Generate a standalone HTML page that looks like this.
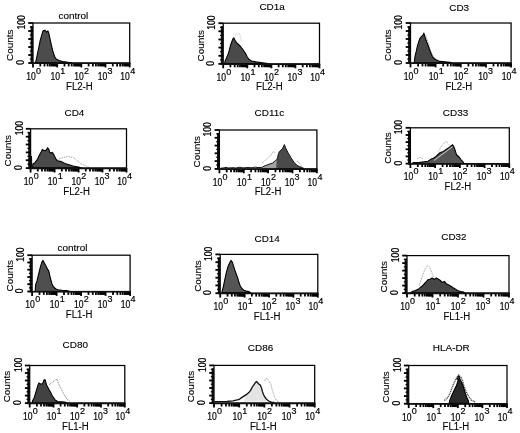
<!DOCTYPE html><html><head><meta charset="utf-8"><style>html,body{margin:0;padding:0;background:#fff;}svg{display:block;filter:blur(0.3px);}</style></head><body>
<svg width="520" height="433" viewBox="0 0 520 433" font-family='"Liberation Sans", sans-serif'>
<rect width="520" height="433" fill="#fff"/>
<g><polygon points="35.2,63.0 36.2,60.1 37.8,52.0 39.0,46.6 40.2,40.3 41.8,34.9 43.0,30.9 45.2,30.4 46.5,32.2 47.9,30.9 48.8,33.1 50.1,39.4 51.5,45.7 52.8,51.1 54.6,56.5 56.4,59.2 59.1,60.6 62.7,61.5 68.0,62.3 72.0,63.0" fill="#4c4c4c" stroke="#000" stroke-width="1.1" stroke-linejoin="round"/><rect x="33" y="23" width="96.7" height="40.0" fill="none" stroke="#000" stroke-width="1.25"/><rect x="30.6" y="26.0" width="2.4" height="37.0" fill="#111"/><line x1="28.2" y1="63.0" x2="33" y2="63.0" stroke="#000" stroke-width="1.8"/><line x1="29.8" y1="59.0" x2="33" y2="59.0" stroke="#000" stroke-width="1.2"/><line x1="28.2" y1="55.0" x2="33" y2="55.0" stroke="#000" stroke-width="1.8"/><line x1="29.8" y1="51.0" x2="33" y2="51.0" stroke="#000" stroke-width="1.2"/><line x1="28.2" y1="47.0" x2="33" y2="47.0" stroke="#000" stroke-width="1.8"/><line x1="29.8" y1="43.0" x2="33" y2="43.0" stroke="#000" stroke-width="1.2"/><line x1="28.2" y1="39.0" x2="33" y2="39.0" stroke="#000" stroke-width="1.8"/><line x1="29.8" y1="35.0" x2="33" y2="35.0" stroke="#000" stroke-width="1.2"/><line x1="28.2" y1="31.0" x2="33" y2="31.0" stroke="#000" stroke-width="1.8"/><line x1="29.8" y1="27.0" x2="33" y2="27.0" stroke="#000" stroke-width="1.2"/><line x1="28.2" y1="23.0" x2="33" y2="23.0" stroke="#000" stroke-width="1.8"/><line x1="33.0" y1="63" x2="33.0" y2="67.4" stroke="#000" stroke-width="1.8"/><line x1="40.3" y1="63" x2="40.3" y2="66.4" stroke="#000" stroke-width="1.8"/><line x1="44.5" y1="63" x2="44.5" y2="66.4" stroke="#000" stroke-width="1.8"/><line x1="47.6" y1="63" x2="47.6" y2="66.4" stroke="#000" stroke-width="1.8"/><line x1="49.9" y1="63" x2="49.9" y2="66.4" stroke="#000" stroke-width="1.8"/><line x1="51.8" y1="63" x2="51.8" y2="66.4" stroke="#000" stroke-width="1.8"/><line x1="53.4" y1="63" x2="53.4" y2="66.4" stroke="#000" stroke-width="1.8"/><line x1="54.8" y1="63" x2="54.8" y2="66.4" stroke="#000" stroke-width="1.8"/><line x1="56.1" y1="63" x2="56.1" y2="66.4" stroke="#000" stroke-width="1.8"/><line x1="57.2" y1="63" x2="57.2" y2="67.4" stroke="#000" stroke-width="1.8"/><line x1="64.5" y1="63" x2="64.5" y2="66.4" stroke="#000" stroke-width="1.8"/><line x1="68.7" y1="63" x2="68.7" y2="66.4" stroke="#000" stroke-width="1.8"/><line x1="71.7" y1="63" x2="71.7" y2="66.4" stroke="#000" stroke-width="1.8"/><line x1="74.1" y1="63" x2="74.1" y2="66.4" stroke="#000" stroke-width="1.8"/><line x1="76.0" y1="63" x2="76.0" y2="66.4" stroke="#000" stroke-width="1.8"/><line x1="77.6" y1="63" x2="77.6" y2="66.4" stroke="#000" stroke-width="1.8"/><line x1="79.0" y1="63" x2="79.0" y2="66.4" stroke="#000" stroke-width="1.8"/><line x1="80.2" y1="63" x2="80.2" y2="66.4" stroke="#000" stroke-width="1.8"/><line x1="81.3" y1="63" x2="81.3" y2="67.4" stroke="#000" stroke-width="1.8"/><line x1="88.6" y1="63" x2="88.6" y2="66.4" stroke="#000" stroke-width="1.8"/><line x1="92.9" y1="63" x2="92.9" y2="66.4" stroke="#000" stroke-width="1.8"/><line x1="95.9" y1="63" x2="95.9" y2="66.4" stroke="#000" stroke-width="1.8"/><line x1="98.2" y1="63" x2="98.2" y2="66.4" stroke="#000" stroke-width="1.8"/><line x1="100.2" y1="63" x2="100.2" y2="66.4" stroke="#000" stroke-width="1.8"/><line x1="101.8" y1="63" x2="101.8" y2="66.4" stroke="#000" stroke-width="1.8"/><line x1="103.2" y1="63" x2="103.2" y2="66.4" stroke="#000" stroke-width="1.8"/><line x1="104.4" y1="63" x2="104.4" y2="66.4" stroke="#000" stroke-width="1.8"/><line x1="105.5" y1="63" x2="105.5" y2="67.4" stroke="#000" stroke-width="1.8"/><line x1="112.8" y1="63" x2="112.8" y2="66.4" stroke="#000" stroke-width="1.8"/><line x1="117.1" y1="63" x2="117.1" y2="66.4" stroke="#000" stroke-width="1.8"/><line x1="120.1" y1="63" x2="120.1" y2="66.4" stroke="#000" stroke-width="1.8"/><line x1="122.4" y1="63" x2="122.4" y2="66.4" stroke="#000" stroke-width="1.8"/><line x1="124.3" y1="63" x2="124.3" y2="66.4" stroke="#000" stroke-width="1.8"/><line x1="126.0" y1="63" x2="126.0" y2="66.4" stroke="#000" stroke-width="1.8"/><line x1="127.4" y1="63" x2="127.4" y2="66.4" stroke="#000" stroke-width="1.8"/><line x1="128.6" y1="63" x2="128.6" y2="66.4" stroke="#000" stroke-width="1.8"/><line x1="129.7" y1="63" x2="129.7" y2="67.4" stroke="#000" stroke-width="1.8"/><rect x="51.1" y="63" width="5.5" height="3.1" fill="#000"/><rect x="75.3" y="63" width="5.5" height="3.1" fill="#000"/><rect x="99.4" y="63" width="5.5" height="3.1" fill="#000"/><rect x="123.6" y="63" width="5.5" height="3.1" fill="#000"/><line x1="30.5" y1="63.3" x2="130.3" y2="63.3" stroke="#111" stroke-width="1.6"/><text transform="translate(31.0,79.8) scale(0.86,1)" font-size="10" text-anchor="middle" stroke="#000" stroke-width="0.2">10</text><text x="38.6" y="73.7" font-size="9.0" text-anchor="middle" stroke="#000" stroke-width="0.2">0</text><text transform="translate(55.2,79.8) scale(0.86,1)" font-size="10" text-anchor="middle" stroke="#000" stroke-width="0.2">10</text><text x="62.8" y="73.7" font-size="9.0" text-anchor="middle" stroke="#000" stroke-width="0.2">1</text><text transform="translate(78.9,79.8) scale(0.86,1)" font-size="10" text-anchor="middle" stroke="#000" stroke-width="0.2">10</text><text x="86.5" y="73.7" font-size="9.0" text-anchor="middle" stroke="#000" stroke-width="0.2">2</text><text transform="translate(102.4,79.8) scale(0.86,1)" font-size="10" text-anchor="middle" stroke="#000" stroke-width="0.2">10</text><text x="110.0" y="73.7" font-size="9.0" text-anchor="middle" stroke="#000" stroke-width="0.2">3</text><text transform="translate(125.1,79.8) scale(0.86,1)" font-size="10" text-anchor="middle" stroke="#000" stroke-width="0.2">10</text><text x="132.7" y="73.7" font-size="9.0" text-anchor="middle" stroke="#000" stroke-width="0.2">4</text><text transform="translate(79.4,89.5) scale(0.96,1)" font-size="10" text-anchor="middle" stroke="#000" stroke-width="0.12">FL2-H</text><text transform="translate(73.3,18.7) scale(1.08,1)" font-size="9.2" text-anchor="middle" stroke="#000" stroke-width="0.12">control</text><text transform="translate(13.4,45.3) rotate(-90) scale(1.08,1)" font-size="9.2" text-anchor="middle" stroke="#000" stroke-width="0.12">Counts</text><text transform="translate(24.9,22.4) rotate(-90) scale(0.84,1)" font-size="10.2" text-anchor="middle" stroke="#000" stroke-width="0.2">100</text><text transform="translate(24.1,62.5) rotate(-90) scale(0.84,1)" font-size="10.2" text-anchor="middle" stroke="#000" stroke-width="0.2">0</text></g>
<g><polyline points="234.5,38.0 235.4,35.0 236.5,33.2 238.0,34.5 239.5,33.5 240.5,37.0 241.5,41.0" fill="none" stroke="#c8c8c8" stroke-width="1" stroke-dasharray="1 0.8"/><polygon points="224.5,63.9 225.1,61.0 226.7,57.5 228.3,53.6 229.5,49.6 230.6,44.9 231.8,41.8 233.0,38.6 233.8,37.9 235.0,40.2 236.5,42.6 238.5,44.5 240.5,46.5 242.4,48.9 244.0,51.2 245.6,53.6 247.1,56.7 249.1,59.5 251.5,61.0 256.0,61.9 262.3,62.7 266.5,63.3 268.0,63.9" fill="#4a4a4a" stroke="#000" stroke-width="1.1" stroke-linejoin="round"/><rect x="223.2" y="23.2" width="96.3" height="40.7" fill="none" stroke="#000" stroke-width="1.25"/><rect x="220.8" y="26.2" width="2.4" height="37.7" fill="#111"/><line x1="218.4" y1="63.9" x2="223.2" y2="63.9" stroke="#000" stroke-width="1.8"/><line x1="220.0" y1="59.8" x2="223.2" y2="59.8" stroke="#000" stroke-width="1.2"/><line x1="218.4" y1="55.8" x2="223.2" y2="55.8" stroke="#000" stroke-width="1.8"/><line x1="220.0" y1="51.7" x2="223.2" y2="51.7" stroke="#000" stroke-width="1.2"/><line x1="218.4" y1="47.6" x2="223.2" y2="47.6" stroke="#000" stroke-width="1.8"/><line x1="220.0" y1="43.5" x2="223.2" y2="43.5" stroke="#000" stroke-width="1.2"/><line x1="218.4" y1="39.5" x2="223.2" y2="39.5" stroke="#000" stroke-width="1.8"/><line x1="220.0" y1="35.4" x2="223.2" y2="35.4" stroke="#000" stroke-width="1.2"/><line x1="218.4" y1="31.3" x2="223.2" y2="31.3" stroke="#000" stroke-width="1.8"/><line x1="220.0" y1="27.3" x2="223.2" y2="27.3" stroke="#000" stroke-width="1.2"/><line x1="218.4" y1="23.2" x2="223.2" y2="23.2" stroke="#000" stroke-width="1.8"/><line x1="223.2" y1="63.9" x2="223.2" y2="68.3" stroke="#000" stroke-width="1.8"/><line x1="230.4" y1="63.9" x2="230.4" y2="67.3" stroke="#000" stroke-width="1.8"/><line x1="234.7" y1="63.9" x2="234.7" y2="67.3" stroke="#000" stroke-width="1.8"/><line x1="237.7" y1="63.9" x2="237.7" y2="67.3" stroke="#000" stroke-width="1.8"/><line x1="240.0" y1="63.9" x2="240.0" y2="67.3" stroke="#000" stroke-width="1.8"/><line x1="241.9" y1="63.9" x2="241.9" y2="67.3" stroke="#000" stroke-width="1.8"/><line x1="243.5" y1="63.9" x2="243.5" y2="67.3" stroke="#000" stroke-width="1.8"/><line x1="244.9" y1="63.9" x2="244.9" y2="67.3" stroke="#000" stroke-width="1.8"/><line x1="246.2" y1="63.9" x2="246.2" y2="67.3" stroke="#000" stroke-width="1.8"/><line x1="247.3" y1="63.9" x2="247.3" y2="68.3" stroke="#000" stroke-width="1.8"/><line x1="254.5" y1="63.9" x2="254.5" y2="67.3" stroke="#000" stroke-width="1.8"/><line x1="258.8" y1="63.9" x2="258.8" y2="67.3" stroke="#000" stroke-width="1.8"/><line x1="261.8" y1="63.9" x2="261.8" y2="67.3" stroke="#000" stroke-width="1.8"/><line x1="264.1" y1="63.9" x2="264.1" y2="67.3" stroke="#000" stroke-width="1.8"/><line x1="266.0" y1="63.9" x2="266.0" y2="67.3" stroke="#000" stroke-width="1.8"/><line x1="267.6" y1="63.9" x2="267.6" y2="67.3" stroke="#000" stroke-width="1.8"/><line x1="269.0" y1="63.9" x2="269.0" y2="67.3" stroke="#000" stroke-width="1.8"/><line x1="270.2" y1="63.9" x2="270.2" y2="67.3" stroke="#000" stroke-width="1.8"/><line x1="271.4" y1="63.9" x2="271.4" y2="68.3" stroke="#000" stroke-width="1.8"/><line x1="278.6" y1="63.9" x2="278.6" y2="67.3" stroke="#000" stroke-width="1.8"/><line x1="282.8" y1="63.9" x2="282.8" y2="67.3" stroke="#000" stroke-width="1.8"/><line x1="285.8" y1="63.9" x2="285.8" y2="67.3" stroke="#000" stroke-width="1.8"/><line x1="288.2" y1="63.9" x2="288.2" y2="67.3" stroke="#000" stroke-width="1.8"/><line x1="290.1" y1="63.9" x2="290.1" y2="67.3" stroke="#000" stroke-width="1.8"/><line x1="291.7" y1="63.9" x2="291.7" y2="67.3" stroke="#000" stroke-width="1.8"/><line x1="293.1" y1="63.9" x2="293.1" y2="67.3" stroke="#000" stroke-width="1.8"/><line x1="294.3" y1="63.9" x2="294.3" y2="67.3" stroke="#000" stroke-width="1.8"/><line x1="295.4" y1="63.9" x2="295.4" y2="68.3" stroke="#000" stroke-width="1.8"/><line x1="302.7" y1="63.9" x2="302.7" y2="67.3" stroke="#000" stroke-width="1.8"/><line x1="306.9" y1="63.9" x2="306.9" y2="67.3" stroke="#000" stroke-width="1.8"/><line x1="309.9" y1="63.9" x2="309.9" y2="67.3" stroke="#000" stroke-width="1.8"/><line x1="312.3" y1="63.9" x2="312.3" y2="67.3" stroke="#000" stroke-width="1.8"/><line x1="314.2" y1="63.9" x2="314.2" y2="67.3" stroke="#000" stroke-width="1.8"/><line x1="315.8" y1="63.9" x2="315.8" y2="67.3" stroke="#000" stroke-width="1.8"/><line x1="317.2" y1="63.9" x2="317.2" y2="67.3" stroke="#000" stroke-width="1.8"/><line x1="318.4" y1="63.9" x2="318.4" y2="67.3" stroke="#000" stroke-width="1.8"/><line x1="319.5" y1="63.9" x2="319.5" y2="68.3" stroke="#000" stroke-width="1.8"/><rect x="241.2" y="63.9" width="5.5" height="3.1" fill="#000"/><rect x="265.3" y="63.9" width="5.5" height="3.1" fill="#000"/><rect x="289.4" y="63.9" width="5.5" height="3.1" fill="#000"/><rect x="313.4" y="63.9" width="5.5" height="3.1" fill="#000"/><line x1="220.7" y1="64.2" x2="320.1" y2="64.2" stroke="#111" stroke-width="1.6"/><text transform="translate(221.2,80.7) scale(0.86,1)" font-size="10" text-anchor="middle" stroke="#000" stroke-width="0.2">10</text><text x="228.8" y="74.6" font-size="9.0" text-anchor="middle" stroke="#000" stroke-width="0.2">0</text><text transform="translate(245.3,80.7) scale(0.86,1)" font-size="10" text-anchor="middle" stroke="#000" stroke-width="0.2">10</text><text x="252.9" y="74.6" font-size="9.0" text-anchor="middle" stroke="#000" stroke-width="0.2">1</text><text transform="translate(269.0,80.7) scale(0.86,1)" font-size="10" text-anchor="middle" stroke="#000" stroke-width="0.2">10</text><text x="276.6" y="74.6" font-size="9.0" text-anchor="middle" stroke="#000" stroke-width="0.2">2</text><text transform="translate(292.3,80.7) scale(0.86,1)" font-size="10" text-anchor="middle" stroke="#000" stroke-width="0.2">10</text><text x="299.9" y="74.6" font-size="9.0" text-anchor="middle" stroke="#000" stroke-width="0.2">3</text><text transform="translate(314.9,80.7) scale(0.86,1)" font-size="10" text-anchor="middle" stroke="#000" stroke-width="0.2">10</text><text x="322.5" y="74.6" font-size="9.0" text-anchor="middle" stroke="#000" stroke-width="0.2">4</text><text transform="translate(269.4,90.4) scale(0.96,1)" font-size="10" text-anchor="middle" stroke="#000" stroke-width="0.12">FL2-H</text><text transform="translate(272.1,10.3) scale(1.08,1)" font-size="9.2" text-anchor="middle" stroke="#000" stroke-width="0.12">CD1a</text><text transform="translate(203.6,45.8) rotate(-90) scale(1.08,1)" font-size="9.2" text-anchor="middle" stroke="#000" stroke-width="0.12">Counts</text><text transform="translate(215.1,22.6) rotate(-90) scale(0.84,1)" font-size="10.2" text-anchor="middle" stroke="#000" stroke-width="0.2">100</text><text transform="translate(214.3,63.4) rotate(-90) scale(0.84,1)" font-size="10.2" text-anchor="middle" stroke="#000" stroke-width="0.2">0</text></g>
<g><polyline points="424.5,33.5 426.2,36.0 427.6,41.0 429.0,46.0 430.8,51.0 432.8,55.5 435.5,58.5" fill="none" stroke="#9c9c9c" stroke-width="1" stroke-dasharray="1 0.8"/><polygon points="414.0,63.0 414.4,61.4 415.1,55.9 416.3,51.2 417.5,45.7 418.7,41.8 419.8,38.6 421.4,36.7 423.0,35.1 423.8,33.1 425.0,37.1 426.5,41.5 428.0,45.3 429.4,49.2 430.8,53.1 432.5,56.8 435.0,59.3 437.5,60.6 440.0,61.4 450.0,62.2 452.0,63.0" fill="#464646" stroke="#000" stroke-width="1.1" stroke-linejoin="round"/><rect x="410.5" y="23" width="100.6" height="40.0" fill="none" stroke="#000" stroke-width="1.25"/><rect x="408.1" y="26.0" width="2.4" height="37.0" fill="#111"/><line x1="405.7" y1="63.0" x2="410.5" y2="63.0" stroke="#000" stroke-width="1.8"/><line x1="407.3" y1="59.0" x2="410.5" y2="59.0" stroke="#000" stroke-width="1.2"/><line x1="405.7" y1="55.0" x2="410.5" y2="55.0" stroke="#000" stroke-width="1.8"/><line x1="407.3" y1="51.0" x2="410.5" y2="51.0" stroke="#000" stroke-width="1.2"/><line x1="405.7" y1="47.0" x2="410.5" y2="47.0" stroke="#000" stroke-width="1.8"/><line x1="407.3" y1="43.0" x2="410.5" y2="43.0" stroke="#000" stroke-width="1.2"/><line x1="405.7" y1="39.0" x2="410.5" y2="39.0" stroke="#000" stroke-width="1.8"/><line x1="407.3" y1="35.0" x2="410.5" y2="35.0" stroke="#000" stroke-width="1.2"/><line x1="405.7" y1="31.0" x2="410.5" y2="31.0" stroke="#000" stroke-width="1.8"/><line x1="407.3" y1="27.0" x2="410.5" y2="27.0" stroke="#000" stroke-width="1.2"/><line x1="405.7" y1="23.0" x2="410.5" y2="23.0" stroke="#000" stroke-width="1.8"/><line x1="410.5" y1="63" x2="410.5" y2="67.4" stroke="#000" stroke-width="1.8"/><line x1="418.1" y1="63" x2="418.1" y2="66.4" stroke="#000" stroke-width="1.8"/><line x1="422.5" y1="63" x2="422.5" y2="66.4" stroke="#000" stroke-width="1.8"/><line x1="425.6" y1="63" x2="425.6" y2="66.4" stroke="#000" stroke-width="1.8"/><line x1="428.1" y1="63" x2="428.1" y2="66.4" stroke="#000" stroke-width="1.8"/><line x1="430.1" y1="63" x2="430.1" y2="66.4" stroke="#000" stroke-width="1.8"/><line x1="431.8" y1="63" x2="431.8" y2="66.4" stroke="#000" stroke-width="1.8"/><line x1="433.2" y1="63" x2="433.2" y2="66.4" stroke="#000" stroke-width="1.8"/><line x1="434.5" y1="63" x2="434.5" y2="66.4" stroke="#000" stroke-width="1.8"/><line x1="435.6" y1="63" x2="435.6" y2="67.4" stroke="#000" stroke-width="1.8"/><line x1="443.2" y1="63" x2="443.2" y2="66.4" stroke="#000" stroke-width="1.8"/><line x1="447.6" y1="63" x2="447.6" y2="66.4" stroke="#000" stroke-width="1.8"/><line x1="450.8" y1="63" x2="450.8" y2="66.4" stroke="#000" stroke-width="1.8"/><line x1="453.2" y1="63" x2="453.2" y2="66.4" stroke="#000" stroke-width="1.8"/><line x1="455.2" y1="63" x2="455.2" y2="66.4" stroke="#000" stroke-width="1.8"/><line x1="456.9" y1="63" x2="456.9" y2="66.4" stroke="#000" stroke-width="1.8"/><line x1="458.4" y1="63" x2="458.4" y2="66.4" stroke="#000" stroke-width="1.8"/><line x1="459.6" y1="63" x2="459.6" y2="66.4" stroke="#000" stroke-width="1.8"/><line x1="460.8" y1="63" x2="460.8" y2="67.4" stroke="#000" stroke-width="1.8"/><line x1="468.4" y1="63" x2="468.4" y2="66.4" stroke="#000" stroke-width="1.8"/><line x1="472.8" y1="63" x2="472.8" y2="66.4" stroke="#000" stroke-width="1.8"/><line x1="475.9" y1="63" x2="475.9" y2="66.4" stroke="#000" stroke-width="1.8"/><line x1="478.4" y1="63" x2="478.4" y2="66.4" stroke="#000" stroke-width="1.8"/><line x1="480.4" y1="63" x2="480.4" y2="66.4" stroke="#000" stroke-width="1.8"/><line x1="482.1" y1="63" x2="482.1" y2="66.4" stroke="#000" stroke-width="1.8"/><line x1="483.5" y1="63" x2="483.5" y2="66.4" stroke="#000" stroke-width="1.8"/><line x1="484.8" y1="63" x2="484.8" y2="66.4" stroke="#000" stroke-width="1.8"/><line x1="486.0" y1="63" x2="486.0" y2="67.4" stroke="#000" stroke-width="1.8"/><line x1="493.5" y1="63" x2="493.5" y2="66.4" stroke="#000" stroke-width="1.8"/><line x1="497.9" y1="63" x2="497.9" y2="66.4" stroke="#000" stroke-width="1.8"/><line x1="501.1" y1="63" x2="501.1" y2="66.4" stroke="#000" stroke-width="1.8"/><line x1="503.5" y1="63" x2="503.5" y2="66.4" stroke="#000" stroke-width="1.8"/><line x1="505.5" y1="63" x2="505.5" y2="66.4" stroke="#000" stroke-width="1.8"/><line x1="507.2" y1="63" x2="507.2" y2="66.4" stroke="#000" stroke-width="1.8"/><line x1="508.7" y1="63" x2="508.7" y2="66.4" stroke="#000" stroke-width="1.8"/><line x1="509.9" y1="63" x2="509.9" y2="66.4" stroke="#000" stroke-width="1.8"/><line x1="511.1" y1="63" x2="511.1" y2="67.4" stroke="#000" stroke-width="1.8"/><rect x="429.3" y="63" width="5.7" height="3.1" fill="#000"/><rect x="454.5" y="63" width="5.7" height="3.1" fill="#000"/><rect x="479.6" y="63" width="5.7" height="3.1" fill="#000"/><rect x="504.8" y="63" width="5.7" height="3.1" fill="#000"/><line x1="408.0" y1="63.3" x2="511.7" y2="63.3" stroke="#111" stroke-width="1.6"/><text transform="translate(408.5,79.8) scale(0.86,1)" font-size="10" text-anchor="middle" stroke="#000" stroke-width="0.2">10</text><text x="416.1" y="73.7" font-size="9.0" text-anchor="middle" stroke="#000" stroke-width="0.2">0</text><text transform="translate(433.6,79.8) scale(0.86,1)" font-size="10" text-anchor="middle" stroke="#000" stroke-width="0.2">10</text><text x="441.2" y="73.7" font-size="9.0" text-anchor="middle" stroke="#000" stroke-width="0.2">1</text><text transform="translate(458.4,79.8) scale(0.86,1)" font-size="10" text-anchor="middle" stroke="#000" stroke-width="0.2">10</text><text x="466.0" y="73.7" font-size="9.0" text-anchor="middle" stroke="#000" stroke-width="0.2">2</text><text transform="translate(482.9,79.8) scale(0.86,1)" font-size="10" text-anchor="middle" stroke="#000" stroke-width="0.2">10</text><text x="490.5" y="73.7" font-size="9.0" text-anchor="middle" stroke="#000" stroke-width="0.2">3</text><text transform="translate(506.5,79.8) scale(0.86,1)" font-size="10" text-anchor="middle" stroke="#000" stroke-width="0.2">10</text><text x="514.1" y="73.7" font-size="9.0" text-anchor="middle" stroke="#000" stroke-width="0.2">4</text><text transform="translate(458.8,89.5) scale(0.96,1)" font-size="10" text-anchor="middle" stroke="#000" stroke-width="0.12">FL2-H</text><text transform="translate(459.2,10.8) scale(1.08,1)" font-size="9.2" text-anchor="middle" stroke="#000" stroke-width="0.12">CD3</text><text transform="translate(390.9,45.3) rotate(-90) scale(1.08,1)" font-size="9.2" text-anchor="middle" stroke="#000" stroke-width="0.12">Counts</text><text transform="translate(402.4,22.4) rotate(-90) scale(0.84,1)" font-size="10.2" text-anchor="middle" stroke="#000" stroke-width="0.2">100</text><text transform="translate(401.6,62.5) rotate(-90) scale(0.84,1)" font-size="10.2" text-anchor="middle" stroke="#000" stroke-width="0.2">0</text></g>
<g><polyline points="57.5,160.2 59.6,158.6 63.7,157.3 67.7,156.6 73.1,157.3 77.1,160.7 81.2,164.0 85.2,165.4 89.3,167.4" fill="none" stroke="#9c9c9c" stroke-width="1" stroke-dasharray="1 0.8"/><polygon points="32.5,168.1 32.9,164.0 34.9,162.7 36.5,160.7 37.8,158.5 39.1,155.6 40.0,154.0 41.3,151.7 42.3,149.4 43.6,150.4 45.2,150.7 46.5,149.8 47.5,147.8 48.8,149.1 49.7,152.3 51.0,153.3 52.3,152.3 53.6,154.3 54.9,156.9 56.2,159.5 57.5,160.7 59.4,161.1 61.0,161.4 65.0,163.4 69.1,164.7 73.1,166.0 79.8,167.4 82.0,168.1" fill="#4a4a4a" stroke="#000" stroke-width="1.1" stroke-linejoin="round"/><polygon points="30.6,168.1 30.6,156.0 32.0,156.0 32.3,168.1" fill="#111"/><rect x="30.6" y="128.8" width="95.9" height="39.3" fill="none" stroke="#000" stroke-width="1.25"/><rect x="28.2" y="131.8" width="2.4" height="36.3" fill="#111"/><line x1="25.8" y1="168.1" x2="30.6" y2="168.1" stroke="#000" stroke-width="1.8"/><line x1="27.4" y1="164.2" x2="30.6" y2="164.2" stroke="#000" stroke-width="1.2"/><line x1="25.8" y1="160.2" x2="30.6" y2="160.2" stroke="#000" stroke-width="1.8"/><line x1="27.4" y1="156.3" x2="30.6" y2="156.3" stroke="#000" stroke-width="1.2"/><line x1="25.8" y1="152.4" x2="30.6" y2="152.4" stroke="#000" stroke-width="1.8"/><line x1="27.4" y1="148.4" x2="30.6" y2="148.4" stroke="#000" stroke-width="1.2"/><line x1="25.8" y1="144.5" x2="30.6" y2="144.5" stroke="#000" stroke-width="1.8"/><line x1="27.4" y1="140.6" x2="30.6" y2="140.6" stroke="#000" stroke-width="1.2"/><line x1="25.8" y1="136.7" x2="30.6" y2="136.7" stroke="#000" stroke-width="1.8"/><line x1="27.4" y1="132.7" x2="30.6" y2="132.7" stroke="#000" stroke-width="1.2"/><line x1="25.8" y1="128.8" x2="30.6" y2="128.8" stroke="#000" stroke-width="1.8"/><line x1="30.6" y1="168.1" x2="30.6" y2="172.5" stroke="#000" stroke-width="1.8"/><line x1="37.8" y1="168.1" x2="37.8" y2="171.5" stroke="#000" stroke-width="1.8"/><line x1="42.0" y1="168.1" x2="42.0" y2="171.5" stroke="#000" stroke-width="1.8"/><line x1="45.0" y1="168.1" x2="45.0" y2="171.5" stroke="#000" stroke-width="1.8"/><line x1="47.4" y1="168.1" x2="47.4" y2="171.5" stroke="#000" stroke-width="1.8"/><line x1="49.3" y1="168.1" x2="49.3" y2="171.5" stroke="#000" stroke-width="1.8"/><line x1="50.9" y1="168.1" x2="50.9" y2="171.5" stroke="#000" stroke-width="1.8"/><line x1="52.3" y1="168.1" x2="52.3" y2="171.5" stroke="#000" stroke-width="1.8"/><line x1="53.5" y1="168.1" x2="53.5" y2="171.5" stroke="#000" stroke-width="1.8"/><line x1="54.6" y1="168.1" x2="54.6" y2="172.5" stroke="#000" stroke-width="1.8"/><line x1="61.8" y1="168.1" x2="61.8" y2="171.5" stroke="#000" stroke-width="1.8"/><line x1="66.0" y1="168.1" x2="66.0" y2="171.5" stroke="#000" stroke-width="1.8"/><line x1="69.0" y1="168.1" x2="69.0" y2="171.5" stroke="#000" stroke-width="1.8"/><line x1="71.3" y1="168.1" x2="71.3" y2="171.5" stroke="#000" stroke-width="1.8"/><line x1="73.2" y1="168.1" x2="73.2" y2="171.5" stroke="#000" stroke-width="1.8"/><line x1="74.8" y1="168.1" x2="74.8" y2="171.5" stroke="#000" stroke-width="1.8"/><line x1="76.2" y1="168.1" x2="76.2" y2="171.5" stroke="#000" stroke-width="1.8"/><line x1="77.5" y1="168.1" x2="77.5" y2="171.5" stroke="#000" stroke-width="1.8"/><line x1="78.6" y1="168.1" x2="78.6" y2="172.5" stroke="#000" stroke-width="1.8"/><line x1="85.8" y1="168.1" x2="85.8" y2="171.5" stroke="#000" stroke-width="1.8"/><line x1="90.0" y1="168.1" x2="90.0" y2="171.5" stroke="#000" stroke-width="1.8"/><line x1="93.0" y1="168.1" x2="93.0" y2="171.5" stroke="#000" stroke-width="1.8"/><line x1="95.3" y1="168.1" x2="95.3" y2="171.5" stroke="#000" stroke-width="1.8"/><line x1="97.2" y1="168.1" x2="97.2" y2="171.5" stroke="#000" stroke-width="1.8"/><line x1="98.8" y1="168.1" x2="98.8" y2="171.5" stroke="#000" stroke-width="1.8"/><line x1="100.2" y1="168.1" x2="100.2" y2="171.5" stroke="#000" stroke-width="1.8"/><line x1="101.4" y1="168.1" x2="101.4" y2="171.5" stroke="#000" stroke-width="1.8"/><line x1="102.5" y1="168.1" x2="102.5" y2="172.5" stroke="#000" stroke-width="1.8"/><line x1="109.7" y1="168.1" x2="109.7" y2="171.5" stroke="#000" stroke-width="1.8"/><line x1="114.0" y1="168.1" x2="114.0" y2="171.5" stroke="#000" stroke-width="1.8"/><line x1="117.0" y1="168.1" x2="117.0" y2="171.5" stroke="#000" stroke-width="1.8"/><line x1="119.3" y1="168.1" x2="119.3" y2="171.5" stroke="#000" stroke-width="1.8"/><line x1="121.2" y1="168.1" x2="121.2" y2="171.5" stroke="#000" stroke-width="1.8"/><line x1="122.8" y1="168.1" x2="122.8" y2="171.5" stroke="#000" stroke-width="1.8"/><line x1="124.2" y1="168.1" x2="124.2" y2="171.5" stroke="#000" stroke-width="1.8"/><line x1="125.4" y1="168.1" x2="125.4" y2="171.5" stroke="#000" stroke-width="1.8"/><line x1="126.5" y1="168.1" x2="126.5" y2="172.5" stroke="#000" stroke-width="1.8"/><rect x="48.5" y="168.1" width="5.4" height="3.1" fill="#000"/><rect x="72.5" y="168.1" width="5.4" height="3.1" fill="#000"/><rect x="96.5" y="168.1" width="5.4" height="3.1" fill="#000"/><rect x="120.5" y="168.1" width="5.4" height="3.1" fill="#000"/><line x1="28.1" y1="168.4" x2="127.1" y2="168.4" stroke="#111" stroke-width="1.6"/><text transform="translate(28.6,184.9) scale(0.86,1)" font-size="10" text-anchor="middle" stroke="#000" stroke-width="0.2">10</text><text x="36.2" y="178.8" font-size="9.0" text-anchor="middle" stroke="#000" stroke-width="0.2">0</text><text transform="translate(52.6,184.9) scale(0.86,1)" font-size="10" text-anchor="middle" stroke="#000" stroke-width="0.2">10</text><text x="60.2" y="178.8" font-size="9.0" text-anchor="middle" stroke="#000" stroke-width="0.2">1</text><text transform="translate(76.2,184.9) scale(0.86,1)" font-size="10" text-anchor="middle" stroke="#000" stroke-width="0.2">10</text><text x="83.8" y="178.8" font-size="9.0" text-anchor="middle" stroke="#000" stroke-width="0.2">2</text><text transform="translate(99.4,184.9) scale(0.86,1)" font-size="10" text-anchor="middle" stroke="#000" stroke-width="0.2">10</text><text x="107.0" y="178.8" font-size="9.0" text-anchor="middle" stroke="#000" stroke-width="0.2">3</text><text transform="translate(121.9,184.9) scale(0.86,1)" font-size="10" text-anchor="middle" stroke="#000" stroke-width="0.2">10</text><text x="129.5" y="178.8" font-size="9.0" text-anchor="middle" stroke="#000" stroke-width="0.2">4</text><text transform="translate(76.6,194.6) scale(0.96,1)" font-size="10" text-anchor="middle" stroke="#000" stroke-width="0.12">FL2-H</text><text transform="translate(74.4,116.2) scale(1.08,1)" font-size="9.2" text-anchor="middle" stroke="#000" stroke-width="0.12">CD4</text><text transform="translate(11.0,150.8) rotate(-90) scale(1.08,1)" font-size="9.2" text-anchor="middle" stroke="#000" stroke-width="0.12">Counts</text><text transform="translate(22.5,128.2) rotate(-90) scale(0.84,1)" font-size="10.2" text-anchor="middle" stroke="#000" stroke-width="0.2">100</text><text transform="translate(21.7,167.6) rotate(-90) scale(0.84,1)" font-size="10.2" text-anchor="middle" stroke="#000" stroke-width="0.2">0</text></g>
<g><polyline points="220.5,168.2 224.0,167.9 226.0,167.3 228.0,168.0 233.0,167.7 236.0,168.0 240.0,167.2 243.0,167.9 248.0,167.5 252.0,167.8 255.0,167.1 258.0,167.6 262.0,167.3" fill="none" stroke="#111" stroke-width="1" stroke-linejoin="round"/><polyline points="262.0,163.0 264.0,161.5 266.3,159.2 268.5,157.5 270.9,155.4 272.5,152.3 274.0,151.5 275.5,153.5" fill="none" stroke="#9c9c9c" stroke-width="1" stroke-dasharray="1 0.8"/><polyline points="297.0,161.0 298.6,162.3 300.5,164.5 302.0,166.0" fill="none" stroke="#9c9c9c" stroke-width="1" stroke-dasharray="1 0.8"/><polygon points="262.0,168.9 264.0,166.2 267.1,165.0 270.2,163.8 272.5,163.1 274.0,161.9 275.5,160.4 276.7,160.0 278.0,168.9" fill="#a0a0a0"/><polygon points="276.2,168.9 276.7,160.0 277.5,157.7 278.2,154.6 279.4,151.5 280.9,150.0 282.5,148.5 283.6,146.2 284.4,144.6 285.5,147.7 287.1,150.8 288.2,153.1 289.4,155.0 290.9,157.7 292.5,160.0 294.0,162.3 295.5,163.8 297.1,165.4 299.4,166.5 302.5,167.7 304.0,168.9" fill="#4a4a4a"/><polyline points="262.0,167.5 264.0,166.2 267.1,165.0 270.2,163.8 272.5,163.1 274.0,161.9 275.5,160.4 276.7,160.0 277.5,157.7 278.2,154.6 279.4,151.5 280.9,150.0 282.5,148.5 283.6,146.2 284.4,144.6 285.5,147.7 287.1,150.8 288.2,153.1 289.4,155.0 290.9,157.7 292.5,160.0 294.0,162.3 295.5,163.8 297.1,165.4 299.4,166.5 302.5,167.7 304.0,168.5" fill="none" stroke="#111" stroke-width="1" stroke-linejoin="round"/><rect x="219.4" y="130" width="97.5" height="38.9" fill="none" stroke="#000" stroke-width="1.25"/><rect x="217.0" y="133.0" width="2.4" height="35.9" fill="#111"/><line x1="214.6" y1="168.9" x2="219.4" y2="168.9" stroke="#000" stroke-width="1.8"/><line x1="216.2" y1="165.0" x2="219.4" y2="165.0" stroke="#000" stroke-width="1.2"/><line x1="214.6" y1="161.1" x2="219.4" y2="161.1" stroke="#000" stroke-width="1.8"/><line x1="216.2" y1="157.2" x2="219.4" y2="157.2" stroke="#000" stroke-width="1.2"/><line x1="214.6" y1="153.3" x2="219.4" y2="153.3" stroke="#000" stroke-width="1.8"/><line x1="216.2" y1="149.4" x2="219.4" y2="149.4" stroke="#000" stroke-width="1.2"/><line x1="214.6" y1="145.6" x2="219.4" y2="145.6" stroke="#000" stroke-width="1.8"/><line x1="216.2" y1="141.7" x2="219.4" y2="141.7" stroke="#000" stroke-width="1.2"/><line x1="214.6" y1="137.8" x2="219.4" y2="137.8" stroke="#000" stroke-width="1.8"/><line x1="216.2" y1="133.9" x2="219.4" y2="133.9" stroke="#000" stroke-width="1.2"/><line x1="214.6" y1="130.0" x2="219.4" y2="130.0" stroke="#000" stroke-width="1.8"/><line x1="219.4" y1="168.9" x2="219.4" y2="173.3" stroke="#000" stroke-width="1.8"/><line x1="226.7" y1="168.9" x2="226.7" y2="172.3" stroke="#000" stroke-width="1.8"/><line x1="231.0" y1="168.9" x2="231.0" y2="172.3" stroke="#000" stroke-width="1.8"/><line x1="234.1" y1="168.9" x2="234.1" y2="172.3" stroke="#000" stroke-width="1.8"/><line x1="236.4" y1="168.9" x2="236.4" y2="172.3" stroke="#000" stroke-width="1.8"/><line x1="238.4" y1="168.9" x2="238.4" y2="172.3" stroke="#000" stroke-width="1.8"/><line x1="240.0" y1="168.9" x2="240.0" y2="172.3" stroke="#000" stroke-width="1.8"/><line x1="241.4" y1="168.9" x2="241.4" y2="172.3" stroke="#000" stroke-width="1.8"/><line x1="242.7" y1="168.9" x2="242.7" y2="172.3" stroke="#000" stroke-width="1.8"/><line x1="243.8" y1="168.9" x2="243.8" y2="173.3" stroke="#000" stroke-width="1.8"/><line x1="251.1" y1="168.9" x2="251.1" y2="172.3" stroke="#000" stroke-width="1.8"/><line x1="255.4" y1="168.9" x2="255.4" y2="172.3" stroke="#000" stroke-width="1.8"/><line x1="258.5" y1="168.9" x2="258.5" y2="172.3" stroke="#000" stroke-width="1.8"/><line x1="260.8" y1="168.9" x2="260.8" y2="172.3" stroke="#000" stroke-width="1.8"/><line x1="262.7" y1="168.9" x2="262.7" y2="172.3" stroke="#000" stroke-width="1.8"/><line x1="264.4" y1="168.9" x2="264.4" y2="172.3" stroke="#000" stroke-width="1.8"/><line x1="265.8" y1="168.9" x2="265.8" y2="172.3" stroke="#000" stroke-width="1.8"/><line x1="267.0" y1="168.9" x2="267.0" y2="172.3" stroke="#000" stroke-width="1.8"/><line x1="268.1" y1="168.9" x2="268.1" y2="173.3" stroke="#000" stroke-width="1.8"/><line x1="275.5" y1="168.9" x2="275.5" y2="172.3" stroke="#000" stroke-width="1.8"/><line x1="279.8" y1="168.9" x2="279.8" y2="172.3" stroke="#000" stroke-width="1.8"/><line x1="282.8" y1="168.9" x2="282.8" y2="172.3" stroke="#000" stroke-width="1.8"/><line x1="285.2" y1="168.9" x2="285.2" y2="172.3" stroke="#000" stroke-width="1.8"/><line x1="287.1" y1="168.9" x2="287.1" y2="172.3" stroke="#000" stroke-width="1.8"/><line x1="288.7" y1="168.9" x2="288.7" y2="172.3" stroke="#000" stroke-width="1.8"/><line x1="290.2" y1="168.9" x2="290.2" y2="172.3" stroke="#000" stroke-width="1.8"/><line x1="291.4" y1="168.9" x2="291.4" y2="172.3" stroke="#000" stroke-width="1.8"/><line x1="292.5" y1="168.9" x2="292.5" y2="173.3" stroke="#000" stroke-width="1.8"/><line x1="299.9" y1="168.9" x2="299.9" y2="172.3" stroke="#000" stroke-width="1.8"/><line x1="304.2" y1="168.9" x2="304.2" y2="172.3" stroke="#000" stroke-width="1.8"/><line x1="307.2" y1="168.9" x2="307.2" y2="172.3" stroke="#000" stroke-width="1.8"/><line x1="309.6" y1="168.9" x2="309.6" y2="172.3" stroke="#000" stroke-width="1.8"/><line x1="311.5" y1="168.9" x2="311.5" y2="172.3" stroke="#000" stroke-width="1.8"/><line x1="313.1" y1="168.9" x2="313.1" y2="172.3" stroke="#000" stroke-width="1.8"/><line x1="314.5" y1="168.9" x2="314.5" y2="172.3" stroke="#000" stroke-width="1.8"/><line x1="315.8" y1="168.9" x2="315.8" y2="172.3" stroke="#000" stroke-width="1.8"/><line x1="316.9" y1="168.9" x2="316.9" y2="173.3" stroke="#000" stroke-width="1.8"/><rect x="237.6" y="168.9" width="5.5" height="3.1" fill="#000"/><rect x="262.0" y="168.9" width="5.5" height="3.1" fill="#000"/><rect x="286.4" y="168.9" width="5.5" height="3.1" fill="#000"/><rect x="310.8" y="168.9" width="5.5" height="3.1" fill="#000"/><line x1="216.9" y1="169.2" x2="317.5" y2="169.2" stroke="#111" stroke-width="1.6"/><text transform="translate(217.4,185.7) scale(0.86,1)" font-size="10" text-anchor="middle" stroke="#000" stroke-width="0.2">10</text><text x="225.0" y="179.6" font-size="9.0" text-anchor="middle" stroke="#000" stroke-width="0.2">0</text><text transform="translate(241.8,185.7) scale(0.86,1)" font-size="10" text-anchor="middle" stroke="#000" stroke-width="0.2">10</text><text x="249.4" y="179.6" font-size="9.0" text-anchor="middle" stroke="#000" stroke-width="0.2">1</text><text transform="translate(265.8,185.7) scale(0.86,1)" font-size="10" text-anchor="middle" stroke="#000" stroke-width="0.2">10</text><text x="273.4" y="179.6" font-size="9.0" text-anchor="middle" stroke="#000" stroke-width="0.2">2</text><text transform="translate(289.4,185.7) scale(0.86,1)" font-size="10" text-anchor="middle" stroke="#000" stroke-width="0.2">10</text><text x="297.0" y="179.6" font-size="9.0" text-anchor="middle" stroke="#000" stroke-width="0.2">3</text><text transform="translate(312.3,185.7) scale(0.86,1)" font-size="10" text-anchor="middle" stroke="#000" stroke-width="0.2">10</text><text x="319.9" y="179.6" font-size="9.0" text-anchor="middle" stroke="#000" stroke-width="0.2">4</text><text transform="translate(268.0,195.4) scale(0.96,1)" font-size="10" text-anchor="middle" stroke="#000" stroke-width="0.12">FL2-H</text><text transform="translate(269.4,115.9) scale(1.08,1)" font-size="9.2" text-anchor="middle" stroke="#000" stroke-width="0.12">CD11c</text><text transform="translate(199.8,151.8) rotate(-90) scale(1.08,1)" font-size="9.2" text-anchor="middle" stroke="#000" stroke-width="0.12">Counts</text><text transform="translate(211.3,129.4) rotate(-90) scale(0.84,1)" font-size="10.2" text-anchor="middle" stroke="#000" stroke-width="0.2">100</text><text transform="translate(210.5,168.4) rotate(-90) scale(0.84,1)" font-size="10.2" text-anchor="middle" stroke="#000" stroke-width="0.2">0</text></g>
<g><polyline points="438.0,151.5 439.5,149.8 441.5,146.0 443.4,143.7 445.7,141.8 447.2,142.2 448.4,144.5" fill="none" stroke="#9c9c9c" stroke-width="1" stroke-dasharray="1 0.8"/><polyline points="417.0,158.8 419.0,157.8 421.0,157.5 423.0,158.6" fill="none" stroke="#9c9c9c" stroke-width="1" stroke-dasharray="1 0.8"/><polygon points="413.0,163.5 413.0,162.6 420.0,162.4 428.0,161.2 431.1,159.1 433.4,158.3 435.7,156.8 438.0,154.5 440.3,152.5 443.4,151.4 445.7,149.8 448.0,148.3 450.3,146.4 452.6,144.8 453.8,146.8 454.9,149.5 455.7,152.2 456.5,154.8 458.0,156.0 459.5,157.5 461.1,159.8 462.6,161.4 463.4,162.5 464.0,163.5" fill="#555555" stroke="#000" stroke-width="1.1" stroke-linejoin="round"/><polyline points="434.0,160.5 438.0,157.5 442.0,154.5 446.0,151.5 450.0,148.5 452.3,146.8" fill="none" stroke="#d8d8d8" stroke-width="0.9"/><rect x="410.4" y="127.8" width="98.9" height="35.8" fill="none" stroke="#000" stroke-width="1.25"/><rect x="408.0" y="130.8" width="2.4" height="32.8" fill="#111"/><line x1="405.6" y1="163.6" x2="410.4" y2="163.6" stroke="#000" stroke-width="1.8"/><line x1="407.2" y1="160.0" x2="410.4" y2="160.0" stroke="#000" stroke-width="1.2"/><line x1="405.6" y1="156.4" x2="410.4" y2="156.4" stroke="#000" stroke-width="1.8"/><line x1="407.2" y1="152.9" x2="410.4" y2="152.9" stroke="#000" stroke-width="1.2"/><line x1="405.6" y1="149.3" x2="410.4" y2="149.3" stroke="#000" stroke-width="1.8"/><line x1="407.2" y1="145.7" x2="410.4" y2="145.7" stroke="#000" stroke-width="1.2"/><line x1="405.6" y1="142.1" x2="410.4" y2="142.1" stroke="#000" stroke-width="1.8"/><line x1="407.2" y1="138.5" x2="410.4" y2="138.5" stroke="#000" stroke-width="1.2"/><line x1="405.6" y1="135.0" x2="410.4" y2="135.0" stroke="#000" stroke-width="1.8"/><line x1="407.2" y1="131.4" x2="410.4" y2="131.4" stroke="#000" stroke-width="1.2"/><line x1="405.6" y1="127.8" x2="410.4" y2="127.8" stroke="#000" stroke-width="1.8"/><line x1="410.4" y1="163.6" x2="410.4" y2="168.0" stroke="#000" stroke-width="1.8"/><line x1="417.8" y1="163.6" x2="417.8" y2="167.0" stroke="#000" stroke-width="1.8"/><line x1="422.2" y1="163.6" x2="422.2" y2="167.0" stroke="#000" stroke-width="1.8"/><line x1="425.3" y1="163.6" x2="425.3" y2="167.0" stroke="#000" stroke-width="1.8"/><line x1="427.7" y1="163.6" x2="427.7" y2="167.0" stroke="#000" stroke-width="1.8"/><line x1="429.6" y1="163.6" x2="429.6" y2="167.0" stroke="#000" stroke-width="1.8"/><line x1="431.3" y1="163.6" x2="431.3" y2="167.0" stroke="#000" stroke-width="1.8"/><line x1="432.7" y1="163.6" x2="432.7" y2="167.0" stroke="#000" stroke-width="1.8"/><line x1="434.0" y1="163.6" x2="434.0" y2="167.0" stroke="#000" stroke-width="1.8"/><line x1="435.1" y1="163.6" x2="435.1" y2="168.0" stroke="#000" stroke-width="1.8"/><line x1="442.6" y1="163.6" x2="442.6" y2="167.0" stroke="#000" stroke-width="1.8"/><line x1="446.9" y1="163.6" x2="446.9" y2="167.0" stroke="#000" stroke-width="1.8"/><line x1="450.0" y1="163.6" x2="450.0" y2="167.0" stroke="#000" stroke-width="1.8"/><line x1="452.4" y1="163.6" x2="452.4" y2="167.0" stroke="#000" stroke-width="1.8"/><line x1="454.4" y1="163.6" x2="454.4" y2="167.0" stroke="#000" stroke-width="1.8"/><line x1="456.0" y1="163.6" x2="456.0" y2="167.0" stroke="#000" stroke-width="1.8"/><line x1="457.5" y1="163.6" x2="457.5" y2="167.0" stroke="#000" stroke-width="1.8"/><line x1="458.7" y1="163.6" x2="458.7" y2="167.0" stroke="#000" stroke-width="1.8"/><line x1="459.9" y1="163.6" x2="459.9" y2="168.0" stroke="#000" stroke-width="1.8"/><line x1="467.3" y1="163.6" x2="467.3" y2="167.0" stroke="#000" stroke-width="1.8"/><line x1="471.6" y1="163.6" x2="471.6" y2="167.0" stroke="#000" stroke-width="1.8"/><line x1="474.7" y1="163.6" x2="474.7" y2="167.0" stroke="#000" stroke-width="1.8"/><line x1="477.1" y1="163.6" x2="477.1" y2="167.0" stroke="#000" stroke-width="1.8"/><line x1="479.1" y1="163.6" x2="479.1" y2="167.0" stroke="#000" stroke-width="1.8"/><line x1="480.7" y1="163.6" x2="480.7" y2="167.0" stroke="#000" stroke-width="1.8"/><line x1="482.2" y1="163.6" x2="482.2" y2="167.0" stroke="#000" stroke-width="1.8"/><line x1="483.4" y1="163.6" x2="483.4" y2="167.0" stroke="#000" stroke-width="1.8"/><line x1="484.6" y1="163.6" x2="484.6" y2="168.0" stroke="#000" stroke-width="1.8"/><line x1="492.0" y1="163.6" x2="492.0" y2="167.0" stroke="#000" stroke-width="1.8"/><line x1="496.4" y1="163.6" x2="496.4" y2="167.0" stroke="#000" stroke-width="1.8"/><line x1="499.5" y1="163.6" x2="499.5" y2="167.0" stroke="#000" stroke-width="1.8"/><line x1="501.9" y1="163.6" x2="501.9" y2="167.0" stroke="#000" stroke-width="1.8"/><line x1="503.8" y1="163.6" x2="503.8" y2="167.0" stroke="#000" stroke-width="1.8"/><line x1="505.5" y1="163.6" x2="505.5" y2="167.0" stroke="#000" stroke-width="1.8"/><line x1="506.9" y1="163.6" x2="506.9" y2="167.0" stroke="#000" stroke-width="1.8"/><line x1="508.2" y1="163.6" x2="508.2" y2="167.0" stroke="#000" stroke-width="1.8"/><line x1="509.3" y1="163.6" x2="509.3" y2="168.0" stroke="#000" stroke-width="1.8"/><rect x="428.9" y="163.6" width="5.6" height="3.1" fill="#000"/><rect x="453.6" y="163.6" width="5.6" height="3.1" fill="#000"/><rect x="478.3" y="163.6" width="5.6" height="3.1" fill="#000"/><rect x="503.1" y="163.6" width="5.6" height="3.1" fill="#000"/><line x1="407.9" y1="163.9" x2="509.9" y2="163.9" stroke="#111" stroke-width="1.6"/><text transform="translate(408.4,180.4) scale(0.86,1)" font-size="10" text-anchor="middle" stroke="#000" stroke-width="0.2">10</text><text x="416.0" y="174.3" font-size="9.0" text-anchor="middle" stroke="#000" stroke-width="0.2">0</text><text transform="translate(433.1,180.4) scale(0.86,1)" font-size="10" text-anchor="middle" stroke="#000" stroke-width="0.2">10</text><text x="440.7" y="174.3" font-size="9.0" text-anchor="middle" stroke="#000" stroke-width="0.2">1</text><text transform="translate(457.5,180.4) scale(0.86,1)" font-size="10" text-anchor="middle" stroke="#000" stroke-width="0.2">10</text><text x="465.1" y="174.3" font-size="9.0" text-anchor="middle" stroke="#000" stroke-width="0.2">2</text><text transform="translate(481.5,180.4) scale(0.86,1)" font-size="10" text-anchor="middle" stroke="#000" stroke-width="0.2">10</text><text x="489.1" y="174.3" font-size="9.0" text-anchor="middle" stroke="#000" stroke-width="0.2">3</text><text transform="translate(504.7,180.4) scale(0.86,1)" font-size="10" text-anchor="middle" stroke="#000" stroke-width="0.2">10</text><text x="512.3" y="174.3" font-size="9.0" text-anchor="middle" stroke="#000" stroke-width="0.2">4</text><text transform="translate(457.9,190.1) scale(0.96,1)" font-size="10" text-anchor="middle" stroke="#000" stroke-width="0.12">FL2-H</text><text transform="translate(455.5,116.2) scale(1.08,1)" font-size="9.2" text-anchor="middle" stroke="#000" stroke-width="0.12">CD33</text><text transform="translate(390.8,148.0) rotate(-90) scale(1.08,1)" font-size="9.2" text-anchor="middle" stroke="#000" stroke-width="0.12">Counts</text><text transform="translate(402.3,127.2) rotate(-90) scale(0.84,1)" font-size="10.2" text-anchor="middle" stroke="#000" stroke-width="0.2">100</text><text transform="translate(401.5,163.1) rotate(-90) scale(0.84,1)" font-size="10.2" text-anchor="middle" stroke="#000" stroke-width="0.2">0</text></g>
<g><polygon points="35.2,291.5 35.6,284.7 37.1,280.7 38.3,275.3 39.5,270.5 40.7,265.8 41.8,262.3 43.0,260.4 44.2,262.7 45.8,265.8 47.7,269.4 48.9,271.3 49.7,275.3 50.9,280.0 52.0,283.9 53.6,287.0 56.0,289.0 58.0,289.8 62.0,290.3 66.4,290.6 70.0,291.5" fill="#4e4e4e" stroke="#000" stroke-width="1.1" stroke-linejoin="round"/><rect x="32.1" y="255.2" width="98.0" height="36.3" fill="none" stroke="#000" stroke-width="1.25"/><rect x="29.7" y="258.2" width="2.4" height="33.3" fill="#111"/><line x1="27.3" y1="291.5" x2="32.1" y2="291.5" stroke="#000" stroke-width="1.8"/><line x1="28.9" y1="287.9" x2="32.1" y2="287.9" stroke="#000" stroke-width="1.2"/><line x1="27.3" y1="284.2" x2="32.1" y2="284.2" stroke="#000" stroke-width="1.8"/><line x1="28.9" y1="280.6" x2="32.1" y2="280.6" stroke="#000" stroke-width="1.2"/><line x1="27.3" y1="277.0" x2="32.1" y2="277.0" stroke="#000" stroke-width="1.8"/><line x1="28.9" y1="273.4" x2="32.1" y2="273.4" stroke="#000" stroke-width="1.2"/><line x1="27.3" y1="269.7" x2="32.1" y2="269.7" stroke="#000" stroke-width="1.8"/><line x1="28.9" y1="266.1" x2="32.1" y2="266.1" stroke="#000" stroke-width="1.2"/><line x1="27.3" y1="262.5" x2="32.1" y2="262.5" stroke="#000" stroke-width="1.8"/><line x1="28.9" y1="258.8" x2="32.1" y2="258.8" stroke="#000" stroke-width="1.2"/><line x1="27.3" y1="255.2" x2="32.1" y2="255.2" stroke="#000" stroke-width="1.8"/><line x1="32.1" y1="291.5" x2="32.1" y2="295.9" stroke="#000" stroke-width="1.8"/><line x1="39.5" y1="291.5" x2="39.5" y2="294.9" stroke="#000" stroke-width="1.8"/><line x1="43.8" y1="291.5" x2="43.8" y2="294.9" stroke="#000" stroke-width="1.8"/><line x1="46.9" y1="291.5" x2="46.9" y2="294.9" stroke="#000" stroke-width="1.8"/><line x1="49.2" y1="291.5" x2="49.2" y2="294.9" stroke="#000" stroke-width="1.8"/><line x1="51.2" y1="291.5" x2="51.2" y2="294.9" stroke="#000" stroke-width="1.8"/><line x1="52.8" y1="291.5" x2="52.8" y2="294.9" stroke="#000" stroke-width="1.8"/><line x1="54.2" y1="291.5" x2="54.2" y2="294.9" stroke="#000" stroke-width="1.8"/><line x1="55.5" y1="291.5" x2="55.5" y2="294.9" stroke="#000" stroke-width="1.8"/><line x1="56.6" y1="291.5" x2="56.6" y2="295.9" stroke="#000" stroke-width="1.8"/><line x1="64.0" y1="291.5" x2="64.0" y2="294.9" stroke="#000" stroke-width="1.8"/><line x1="68.3" y1="291.5" x2="68.3" y2="294.9" stroke="#000" stroke-width="1.8"/><line x1="71.4" y1="291.5" x2="71.4" y2="294.9" stroke="#000" stroke-width="1.8"/><line x1="73.7" y1="291.5" x2="73.7" y2="294.9" stroke="#000" stroke-width="1.8"/><line x1="75.7" y1="291.5" x2="75.7" y2="294.9" stroke="#000" stroke-width="1.8"/><line x1="77.3" y1="291.5" x2="77.3" y2="294.9" stroke="#000" stroke-width="1.8"/><line x1="78.7" y1="291.5" x2="78.7" y2="294.9" stroke="#000" stroke-width="1.8"/><line x1="80.0" y1="291.5" x2="80.0" y2="294.9" stroke="#000" stroke-width="1.8"/><line x1="81.1" y1="291.5" x2="81.1" y2="295.9" stroke="#000" stroke-width="1.8"/><line x1="88.5" y1="291.5" x2="88.5" y2="294.9" stroke="#000" stroke-width="1.8"/><line x1="92.8" y1="291.5" x2="92.8" y2="294.9" stroke="#000" stroke-width="1.8"/><line x1="95.9" y1="291.5" x2="95.9" y2="294.9" stroke="#000" stroke-width="1.8"/><line x1="98.2" y1="291.5" x2="98.2" y2="294.9" stroke="#000" stroke-width="1.8"/><line x1="100.2" y1="291.5" x2="100.2" y2="294.9" stroke="#000" stroke-width="1.8"/><line x1="101.8" y1="291.5" x2="101.8" y2="294.9" stroke="#000" stroke-width="1.8"/><line x1="103.2" y1="291.5" x2="103.2" y2="294.9" stroke="#000" stroke-width="1.8"/><line x1="104.5" y1="291.5" x2="104.5" y2="294.9" stroke="#000" stroke-width="1.8"/><line x1="105.6" y1="291.5" x2="105.6" y2="295.9" stroke="#000" stroke-width="1.8"/><line x1="113.0" y1="291.5" x2="113.0" y2="294.9" stroke="#000" stroke-width="1.8"/><line x1="117.3" y1="291.5" x2="117.3" y2="294.9" stroke="#000" stroke-width="1.8"/><line x1="120.4" y1="291.5" x2="120.4" y2="294.9" stroke="#000" stroke-width="1.8"/><line x1="122.7" y1="291.5" x2="122.7" y2="294.9" stroke="#000" stroke-width="1.8"/><line x1="124.7" y1="291.5" x2="124.7" y2="294.9" stroke="#000" stroke-width="1.8"/><line x1="126.3" y1="291.5" x2="126.3" y2="294.9" stroke="#000" stroke-width="1.8"/><line x1="127.7" y1="291.5" x2="127.7" y2="294.9" stroke="#000" stroke-width="1.8"/><line x1="129.0" y1="291.5" x2="129.0" y2="294.9" stroke="#000" stroke-width="1.8"/><line x1="130.1" y1="291.5" x2="130.1" y2="295.9" stroke="#000" stroke-width="1.8"/><rect x="50.4" y="291.5" width="5.6" height="3.1" fill="#000"/><rect x="74.9" y="291.5" width="5.6" height="3.1" fill="#000"/><rect x="99.4" y="291.5" width="5.6" height="3.1" fill="#000"/><rect x="123.9" y="291.5" width="5.6" height="3.1" fill="#000"/><line x1="29.6" y1="291.8" x2="130.7" y2="291.8" stroke="#111" stroke-width="1.6"/><text transform="translate(30.1,308.3) scale(0.86,1)" font-size="10" text-anchor="middle" stroke="#000" stroke-width="0.2">10</text><text x="37.7" y="302.2" font-size="9.0" text-anchor="middle" stroke="#000" stroke-width="0.2">0</text><text transform="translate(54.6,308.3) scale(0.86,1)" font-size="10" text-anchor="middle" stroke="#000" stroke-width="0.2">10</text><text x="62.2" y="302.2" font-size="9.0" text-anchor="middle" stroke="#000" stroke-width="0.2">1</text><text transform="translate(78.7,308.3) scale(0.86,1)" font-size="10" text-anchor="middle" stroke="#000" stroke-width="0.2">10</text><text x="86.3" y="302.2" font-size="9.0" text-anchor="middle" stroke="#000" stroke-width="0.2">2</text><text transform="translate(102.5,308.3) scale(0.86,1)" font-size="10" text-anchor="middle" stroke="#000" stroke-width="0.2">10</text><text x="110.1" y="302.2" font-size="9.0" text-anchor="middle" stroke="#000" stroke-width="0.2">3</text><text transform="translate(125.5,308.3) scale(0.86,1)" font-size="10" text-anchor="middle" stroke="#000" stroke-width="0.2">10</text><text x="133.1" y="302.2" font-size="9.0" text-anchor="middle" stroke="#000" stroke-width="0.2">4</text><text transform="translate(79.1,318.0) scale(0.96,1)" font-size="10" text-anchor="middle" stroke="#000" stroke-width="0.12">FL1-H</text><text transform="translate(72.5,250.9) scale(1.08,1)" font-size="9.2" text-anchor="middle" stroke="#000" stroke-width="0.12">control</text><text transform="translate(12.5,275.7) rotate(-90) scale(1.08,1)" font-size="9.2" text-anchor="middle" stroke="#000" stroke-width="0.12">Counts</text><text transform="translate(24.0,254.6) rotate(-90) scale(0.84,1)" font-size="10.2" text-anchor="middle" stroke="#000" stroke-width="0.2">100</text><text transform="translate(23.2,291.0) rotate(-90) scale(0.84,1)" font-size="10.2" text-anchor="middle" stroke="#000" stroke-width="0.2">0</text></g>
<g><polygon points="221.8,292.9 222.2,291.1 223.5,285.8 224.8,279.7 226.1,273.5 227.5,268.3 228.8,264.8 230.1,262.1 231.0,260.4 232.3,262.1 233.2,264.8 234.0,267.4 235.4,271.8 236.7,275.3 238.0,278.8 238.9,282.3 240.2,285.8 241.9,288.5 243.7,290.2 246.3,291.1 249.0,291.6 251.0,292.9" fill="#555555" stroke="#000" stroke-width="1.1" stroke-linejoin="round"/><rect x="220.2" y="254.4" width="97.6" height="38.8" fill="none" stroke="#000" stroke-width="1.25"/><rect x="217.8" y="257.4" width="2.4" height="35.8" fill="#111"/><line x1="215.4" y1="293.2" x2="220.2" y2="293.2" stroke="#000" stroke-width="1.8"/><line x1="217.0" y1="289.3" x2="220.2" y2="289.3" stroke="#000" stroke-width="1.2"/><line x1="215.4" y1="285.4" x2="220.2" y2="285.4" stroke="#000" stroke-width="1.8"/><line x1="217.0" y1="281.6" x2="220.2" y2="281.6" stroke="#000" stroke-width="1.2"/><line x1="215.4" y1="277.7" x2="220.2" y2="277.7" stroke="#000" stroke-width="1.8"/><line x1="217.0" y1="273.8" x2="220.2" y2="273.8" stroke="#000" stroke-width="1.2"/><line x1="215.4" y1="269.9" x2="220.2" y2="269.9" stroke="#000" stroke-width="1.8"/><line x1="217.0" y1="266.0" x2="220.2" y2="266.0" stroke="#000" stroke-width="1.2"/><line x1="215.4" y1="262.2" x2="220.2" y2="262.2" stroke="#000" stroke-width="1.8"/><line x1="217.0" y1="258.3" x2="220.2" y2="258.3" stroke="#000" stroke-width="1.2"/><line x1="215.4" y1="254.4" x2="220.2" y2="254.4" stroke="#000" stroke-width="1.8"/><line x1="220.2" y1="293.2" x2="220.2" y2="297.6" stroke="#000" stroke-width="1.8"/><line x1="227.5" y1="293.2" x2="227.5" y2="296.6" stroke="#000" stroke-width="1.8"/><line x1="231.8" y1="293.2" x2="231.8" y2="296.6" stroke="#000" stroke-width="1.8"/><line x1="234.9" y1="293.2" x2="234.9" y2="296.6" stroke="#000" stroke-width="1.8"/><line x1="237.3" y1="293.2" x2="237.3" y2="296.6" stroke="#000" stroke-width="1.8"/><line x1="239.2" y1="293.2" x2="239.2" y2="296.6" stroke="#000" stroke-width="1.8"/><line x1="240.8" y1="293.2" x2="240.8" y2="296.6" stroke="#000" stroke-width="1.8"/><line x1="242.2" y1="293.2" x2="242.2" y2="296.6" stroke="#000" stroke-width="1.8"/><line x1="243.5" y1="293.2" x2="243.5" y2="296.6" stroke="#000" stroke-width="1.8"/><line x1="244.6" y1="293.2" x2="244.6" y2="297.6" stroke="#000" stroke-width="1.8"/><line x1="251.9" y1="293.2" x2="251.9" y2="296.6" stroke="#000" stroke-width="1.8"/><line x1="256.2" y1="293.2" x2="256.2" y2="296.6" stroke="#000" stroke-width="1.8"/><line x1="259.3" y1="293.2" x2="259.3" y2="296.6" stroke="#000" stroke-width="1.8"/><line x1="261.7" y1="293.2" x2="261.7" y2="296.6" stroke="#000" stroke-width="1.8"/><line x1="263.6" y1="293.2" x2="263.6" y2="296.6" stroke="#000" stroke-width="1.8"/><line x1="265.2" y1="293.2" x2="265.2" y2="296.6" stroke="#000" stroke-width="1.8"/><line x1="266.6" y1="293.2" x2="266.6" y2="296.6" stroke="#000" stroke-width="1.8"/><line x1="267.9" y1="293.2" x2="267.9" y2="296.6" stroke="#000" stroke-width="1.8"/><line x1="269.0" y1="293.2" x2="269.0" y2="297.6" stroke="#000" stroke-width="1.8"/><line x1="276.3" y1="293.2" x2="276.3" y2="296.6" stroke="#000" stroke-width="1.8"/><line x1="280.6" y1="293.2" x2="280.6" y2="296.6" stroke="#000" stroke-width="1.8"/><line x1="283.7" y1="293.2" x2="283.7" y2="296.6" stroke="#000" stroke-width="1.8"/><line x1="286.1" y1="293.2" x2="286.1" y2="296.6" stroke="#000" stroke-width="1.8"/><line x1="288.0" y1="293.2" x2="288.0" y2="296.6" stroke="#000" stroke-width="1.8"/><line x1="289.6" y1="293.2" x2="289.6" y2="296.6" stroke="#000" stroke-width="1.8"/><line x1="291.0" y1="293.2" x2="291.0" y2="296.6" stroke="#000" stroke-width="1.8"/><line x1="292.3" y1="293.2" x2="292.3" y2="296.6" stroke="#000" stroke-width="1.8"/><line x1="293.4" y1="293.2" x2="293.4" y2="297.6" stroke="#000" stroke-width="1.8"/><line x1="300.7" y1="293.2" x2="300.7" y2="296.6" stroke="#000" stroke-width="1.8"/><line x1="305.0" y1="293.2" x2="305.0" y2="296.6" stroke="#000" stroke-width="1.8"/><line x1="308.1" y1="293.2" x2="308.1" y2="296.6" stroke="#000" stroke-width="1.8"/><line x1="310.5" y1="293.2" x2="310.5" y2="296.6" stroke="#000" stroke-width="1.8"/><line x1="312.4" y1="293.2" x2="312.4" y2="296.6" stroke="#000" stroke-width="1.8"/><line x1="314.0" y1="293.2" x2="314.0" y2="296.6" stroke="#000" stroke-width="1.8"/><line x1="315.4" y1="293.2" x2="315.4" y2="296.6" stroke="#000" stroke-width="1.8"/><line x1="316.7" y1="293.2" x2="316.7" y2="296.6" stroke="#000" stroke-width="1.8"/><line x1="317.8" y1="293.2" x2="317.8" y2="297.6" stroke="#000" stroke-width="1.8"/><rect x="238.5" y="293.2" width="5.5" height="3.1" fill="#000"/><rect x="262.9" y="293.2" width="5.5" height="3.1" fill="#000"/><rect x="287.3" y="293.2" width="5.5" height="3.1" fill="#000"/><rect x="311.7" y="293.2" width="5.5" height="3.1" fill="#000"/><line x1="217.7" y1="293.5" x2="318.4" y2="293.5" stroke="#111" stroke-width="1.6"/><text transform="translate(218.2,310.0) scale(0.86,1)" font-size="10" text-anchor="middle" stroke="#000" stroke-width="0.2">10</text><text x="225.8" y="303.9" font-size="9.0" text-anchor="middle" stroke="#000" stroke-width="0.2">0</text><text transform="translate(242.6,310.0) scale(0.86,1)" font-size="10" text-anchor="middle" stroke="#000" stroke-width="0.2">10</text><text x="250.2" y="303.9" font-size="9.0" text-anchor="middle" stroke="#000" stroke-width="0.2">1</text><text transform="translate(266.6,310.0) scale(0.86,1)" font-size="10" text-anchor="middle" stroke="#000" stroke-width="0.2">10</text><text x="274.2" y="303.9" font-size="9.0" text-anchor="middle" stroke="#000" stroke-width="0.2">2</text><text transform="translate(290.3,310.0) scale(0.86,1)" font-size="10" text-anchor="middle" stroke="#000" stroke-width="0.2">10</text><text x="297.9" y="303.9" font-size="9.0" text-anchor="middle" stroke="#000" stroke-width="0.2">3</text><text transform="translate(313.2,310.0) scale(0.86,1)" font-size="10" text-anchor="middle" stroke="#000" stroke-width="0.2">10</text><text x="320.8" y="303.9" font-size="9.0" text-anchor="middle" stroke="#000" stroke-width="0.2">4</text><text transform="translate(267.1,319.7) scale(0.96,1)" font-size="10" text-anchor="middle" stroke="#000" stroke-width="0.12">FL1-H</text><text transform="translate(267.2,242.2) scale(1.08,1)" font-size="9.2" text-anchor="middle" stroke="#000" stroke-width="0.12">CD14</text><text transform="translate(200.6,276.1) rotate(-90) scale(1.08,1)" font-size="9.2" text-anchor="middle" stroke="#000" stroke-width="0.12">Counts</text><text transform="translate(212.1,253.8) rotate(-90) scale(0.84,1)" font-size="10.2" text-anchor="middle" stroke="#000" stroke-width="0.2">100</text><text transform="translate(211.3,292.7) rotate(-90) scale(0.84,1)" font-size="10.2" text-anchor="middle" stroke="#000" stroke-width="0.2">0</text></g>
<g><polyline points="419.1,285.7 420.8,280.3 422.4,276.0 424.0,271.7 425.6,267.9 427.2,265.8 429.4,266.8 431.0,270.6 432.6,274.9 433.7,277.0" fill="none" stroke="#9c9c9c" stroke-width="1" stroke-dasharray="1 0.8"/><polygon points="410.0,293.0 412.2,291.6 415.4,290.5 418.6,288.9 421.3,286.8 423.5,284.6 425.6,282.5 427.8,279.8 429.9,279.2 432.1,278.1 434.2,279.2 436.4,278.1 438.5,279.2 440.7,280.8 442.3,282.5 444.4,281.4 446.6,284.1 448.8,285.1 450.9,286.2 453.1,287.8 455.2,288.9 457.4,290.5 460.6,291.6 463.8,292.1 465.0,293.0" fill="#464646" stroke="#000" stroke-width="1.1" stroke-linejoin="round"/><rect x="407" y="255.6" width="102.0" height="37.5" fill="none" stroke="#000" stroke-width="1.25"/><rect x="404.6" y="258.6" width="2.4" height="34.5" fill="#111"/><line x1="402.2" y1="293.1" x2="407" y2="293.1" stroke="#000" stroke-width="1.8"/><line x1="403.8" y1="289.4" x2="407" y2="289.4" stroke="#000" stroke-width="1.2"/><line x1="402.2" y1="285.6" x2="407" y2="285.6" stroke="#000" stroke-width="1.8"/><line x1="403.8" y1="281.9" x2="407" y2="281.9" stroke="#000" stroke-width="1.2"/><line x1="402.2" y1="278.1" x2="407" y2="278.1" stroke="#000" stroke-width="1.8"/><line x1="403.8" y1="274.4" x2="407" y2="274.4" stroke="#000" stroke-width="1.2"/><line x1="402.2" y1="270.6" x2="407" y2="270.6" stroke="#000" stroke-width="1.8"/><line x1="403.8" y1="266.9" x2="407" y2="266.9" stroke="#000" stroke-width="1.2"/><line x1="402.2" y1="263.1" x2="407" y2="263.1" stroke="#000" stroke-width="1.8"/><line x1="403.8" y1="259.4" x2="407" y2="259.4" stroke="#000" stroke-width="1.2"/><line x1="402.2" y1="255.6" x2="407" y2="255.6" stroke="#000" stroke-width="1.8"/><line x1="407.0" y1="293.1" x2="407.0" y2="297.5" stroke="#000" stroke-width="1.8"/><line x1="414.7" y1="293.1" x2="414.7" y2="296.5" stroke="#000" stroke-width="1.8"/><line x1="419.2" y1="293.1" x2="419.2" y2="296.5" stroke="#000" stroke-width="1.8"/><line x1="422.4" y1="293.1" x2="422.4" y2="296.5" stroke="#000" stroke-width="1.8"/><line x1="424.8" y1="293.1" x2="424.8" y2="296.5" stroke="#000" stroke-width="1.8"/><line x1="426.8" y1="293.1" x2="426.8" y2="296.5" stroke="#000" stroke-width="1.8"/><line x1="428.6" y1="293.1" x2="428.6" y2="296.5" stroke="#000" stroke-width="1.8"/><line x1="430.0" y1="293.1" x2="430.0" y2="296.5" stroke="#000" stroke-width="1.8"/><line x1="431.3" y1="293.1" x2="431.3" y2="296.5" stroke="#000" stroke-width="1.8"/><line x1="432.5" y1="293.1" x2="432.5" y2="297.5" stroke="#000" stroke-width="1.8"/><line x1="440.2" y1="293.1" x2="440.2" y2="296.5" stroke="#000" stroke-width="1.8"/><line x1="444.7" y1="293.1" x2="444.7" y2="296.5" stroke="#000" stroke-width="1.8"/><line x1="447.9" y1="293.1" x2="447.9" y2="296.5" stroke="#000" stroke-width="1.8"/><line x1="450.3" y1="293.1" x2="450.3" y2="296.5" stroke="#000" stroke-width="1.8"/><line x1="452.3" y1="293.1" x2="452.3" y2="296.5" stroke="#000" stroke-width="1.8"/><line x1="454.1" y1="293.1" x2="454.1" y2="296.5" stroke="#000" stroke-width="1.8"/><line x1="455.5" y1="293.1" x2="455.5" y2="296.5" stroke="#000" stroke-width="1.8"/><line x1="456.8" y1="293.1" x2="456.8" y2="296.5" stroke="#000" stroke-width="1.8"/><line x1="458.0" y1="293.1" x2="458.0" y2="297.5" stroke="#000" stroke-width="1.8"/><line x1="465.7" y1="293.1" x2="465.7" y2="296.5" stroke="#000" stroke-width="1.8"/><line x1="470.2" y1="293.1" x2="470.2" y2="296.5" stroke="#000" stroke-width="1.8"/><line x1="473.4" y1="293.1" x2="473.4" y2="296.5" stroke="#000" stroke-width="1.8"/><line x1="475.8" y1="293.1" x2="475.8" y2="296.5" stroke="#000" stroke-width="1.8"/><line x1="477.8" y1="293.1" x2="477.8" y2="296.5" stroke="#000" stroke-width="1.8"/><line x1="479.6" y1="293.1" x2="479.6" y2="296.5" stroke="#000" stroke-width="1.8"/><line x1="481.0" y1="293.1" x2="481.0" y2="296.5" stroke="#000" stroke-width="1.8"/><line x1="482.3" y1="293.1" x2="482.3" y2="296.5" stroke="#000" stroke-width="1.8"/><line x1="483.5" y1="293.1" x2="483.5" y2="297.5" stroke="#000" stroke-width="1.8"/><line x1="491.2" y1="293.1" x2="491.2" y2="296.5" stroke="#000" stroke-width="1.8"/><line x1="495.7" y1="293.1" x2="495.7" y2="296.5" stroke="#000" stroke-width="1.8"/><line x1="498.9" y1="293.1" x2="498.9" y2="296.5" stroke="#000" stroke-width="1.8"/><line x1="501.3" y1="293.1" x2="501.3" y2="296.5" stroke="#000" stroke-width="1.8"/><line x1="503.3" y1="293.1" x2="503.3" y2="296.5" stroke="#000" stroke-width="1.8"/><line x1="505.1" y1="293.1" x2="505.1" y2="296.5" stroke="#000" stroke-width="1.8"/><line x1="506.5" y1="293.1" x2="506.5" y2="296.5" stroke="#000" stroke-width="1.8"/><line x1="507.8" y1="293.1" x2="507.8" y2="296.5" stroke="#000" stroke-width="1.8"/><line x1="509.0" y1="293.1" x2="509.0" y2="297.5" stroke="#000" stroke-width="1.8"/><rect x="426.1" y="293.1" width="5.8" height="3.1" fill="#000"/><rect x="451.6" y="293.1" width="5.8" height="3.1" fill="#000"/><rect x="477.1" y="293.1" width="5.8" height="3.1" fill="#000"/><rect x="502.6" y="293.1" width="5.8" height="3.1" fill="#000"/><line x1="404.5" y1="293.4" x2="509.6" y2="293.4" stroke="#111" stroke-width="1.6"/><text transform="translate(405.0,309.9) scale(0.86,1)" font-size="10" text-anchor="middle" stroke="#000" stroke-width="0.2">10</text><text x="412.6" y="303.8" font-size="9.0" text-anchor="middle" stroke="#000" stroke-width="0.2">0</text><text transform="translate(430.5,309.9) scale(0.86,1)" font-size="10" text-anchor="middle" stroke="#000" stroke-width="0.2">10</text><text x="438.1" y="303.8" font-size="9.0" text-anchor="middle" stroke="#000" stroke-width="0.2">1</text><text transform="translate(455.6,309.9) scale(0.86,1)" font-size="10" text-anchor="middle" stroke="#000" stroke-width="0.2">10</text><text x="463.2" y="303.8" font-size="9.0" text-anchor="middle" stroke="#000" stroke-width="0.2">2</text><text transform="translate(480.4,309.9) scale(0.86,1)" font-size="10" text-anchor="middle" stroke="#000" stroke-width="0.2">10</text><text x="488.0" y="303.8" font-size="9.0" text-anchor="middle" stroke="#000" stroke-width="0.2">3</text><text transform="translate(504.4,309.9) scale(0.86,1)" font-size="10" text-anchor="middle" stroke="#000" stroke-width="0.2">10</text><text x="512.0" y="303.8" font-size="9.0" text-anchor="middle" stroke="#000" stroke-width="0.2">4</text><text transform="translate(456.8,319.6) scale(0.96,1)" font-size="10" text-anchor="middle" stroke="#000" stroke-width="0.12">FL1-H</text><text transform="translate(453.9,240.2) scale(1.08,1)" font-size="9.2" text-anchor="middle" stroke="#000" stroke-width="0.12">CD32</text><text transform="translate(387.4,276.7) rotate(-90) scale(1.08,1)" font-size="9.2" text-anchor="middle" stroke="#000" stroke-width="0.12">Counts</text><text transform="translate(398.9,255.0) rotate(-90) scale(0.84,1)" font-size="10.2" text-anchor="middle" stroke="#000" stroke-width="0.2">100</text><text transform="translate(398.1,292.6) rotate(-90) scale(0.84,1)" font-size="10.2" text-anchor="middle" stroke="#000" stroke-width="0.2">0</text></g>
<g><polyline points="49.0,385.0 50.3,383.7 52.8,382.0 55.4,379.9 57.1,379.5 58.8,384.2 60.5,388.0 62.1,390.9 63.8,393.9 65.5,396.8 67.2,399.4 69.8,401.1" fill="none" stroke="#808080" stroke-width="1" stroke-dasharray="1 0.8"/><polygon points="32.0,403.2 32.5,401.1 34.2,397.7 35.5,393.5 36.8,389.2 38.0,385.0 38.9,382.9 40.2,383.7 41.8,384.2 43.1,382.5 44.0,379.9 45.2,379.9 46.1,383.3 46.9,385.8 48.2,388.0 49.5,390.5 50.7,392.6 52.0,395.2 53.7,397.7 55.4,400.2 57.9,401.5 62.1,401.9 66.0,402.4 68.0,403.2" fill="#424242" stroke="#000" stroke-width="1.1" stroke-linejoin="round"/><rect x="29.7" y="365.5" width="95.1" height="37.6" fill="none" stroke="#000" stroke-width="1.25"/><rect x="27.3" y="368.5" width="2.4" height="34.6" fill="#111"/><line x1="24.9" y1="403.1" x2="29.7" y2="403.1" stroke="#000" stroke-width="1.8"/><line x1="26.5" y1="399.3" x2="29.7" y2="399.3" stroke="#000" stroke-width="1.2"/><line x1="24.9" y1="395.6" x2="29.7" y2="395.6" stroke="#000" stroke-width="1.8"/><line x1="26.5" y1="391.8" x2="29.7" y2="391.8" stroke="#000" stroke-width="1.2"/><line x1="24.9" y1="388.1" x2="29.7" y2="388.1" stroke="#000" stroke-width="1.8"/><line x1="26.5" y1="384.3" x2="29.7" y2="384.3" stroke="#000" stroke-width="1.2"/><line x1="24.9" y1="380.5" x2="29.7" y2="380.5" stroke="#000" stroke-width="1.8"/><line x1="26.5" y1="376.8" x2="29.7" y2="376.8" stroke="#000" stroke-width="1.2"/><line x1="24.9" y1="373.0" x2="29.7" y2="373.0" stroke="#000" stroke-width="1.8"/><line x1="26.5" y1="369.3" x2="29.7" y2="369.3" stroke="#000" stroke-width="1.2"/><line x1="24.9" y1="365.5" x2="29.7" y2="365.5" stroke="#000" stroke-width="1.8"/><line x1="29.7" y1="403.1" x2="29.7" y2="407.5" stroke="#000" stroke-width="1.8"/><line x1="36.9" y1="403.1" x2="36.9" y2="406.5" stroke="#000" stroke-width="1.8"/><line x1="41.0" y1="403.1" x2="41.0" y2="406.5" stroke="#000" stroke-width="1.8"/><line x1="44.0" y1="403.1" x2="44.0" y2="406.5" stroke="#000" stroke-width="1.8"/><line x1="46.3" y1="403.1" x2="46.3" y2="406.5" stroke="#000" stroke-width="1.8"/><line x1="48.2" y1="403.1" x2="48.2" y2="406.5" stroke="#000" stroke-width="1.8"/><line x1="49.8" y1="403.1" x2="49.8" y2="406.5" stroke="#000" stroke-width="1.8"/><line x1="51.2" y1="403.1" x2="51.2" y2="406.5" stroke="#000" stroke-width="1.8"/><line x1="52.4" y1="403.1" x2="52.4" y2="406.5" stroke="#000" stroke-width="1.8"/><line x1="53.5" y1="403.1" x2="53.5" y2="407.5" stroke="#000" stroke-width="1.8"/><line x1="60.6" y1="403.1" x2="60.6" y2="406.5" stroke="#000" stroke-width="1.8"/><line x1="64.8" y1="403.1" x2="64.8" y2="406.5" stroke="#000" stroke-width="1.8"/><line x1="67.8" y1="403.1" x2="67.8" y2="406.5" stroke="#000" stroke-width="1.8"/><line x1="70.1" y1="403.1" x2="70.1" y2="406.5" stroke="#000" stroke-width="1.8"/><line x1="72.0" y1="403.1" x2="72.0" y2="406.5" stroke="#000" stroke-width="1.8"/><line x1="73.6" y1="403.1" x2="73.6" y2="406.5" stroke="#000" stroke-width="1.8"/><line x1="74.9" y1="403.1" x2="74.9" y2="406.5" stroke="#000" stroke-width="1.8"/><line x1="76.2" y1="403.1" x2="76.2" y2="406.5" stroke="#000" stroke-width="1.8"/><line x1="77.2" y1="403.1" x2="77.2" y2="407.5" stroke="#000" stroke-width="1.8"/><line x1="84.4" y1="403.1" x2="84.4" y2="406.5" stroke="#000" stroke-width="1.8"/><line x1="88.6" y1="403.1" x2="88.6" y2="406.5" stroke="#000" stroke-width="1.8"/><line x1="91.6" y1="403.1" x2="91.6" y2="406.5" stroke="#000" stroke-width="1.8"/><line x1="93.9" y1="403.1" x2="93.9" y2="406.5" stroke="#000" stroke-width="1.8"/><line x1="95.8" y1="403.1" x2="95.8" y2="406.5" stroke="#000" stroke-width="1.8"/><line x1="97.3" y1="403.1" x2="97.3" y2="406.5" stroke="#000" stroke-width="1.8"/><line x1="98.7" y1="403.1" x2="98.7" y2="406.5" stroke="#000" stroke-width="1.8"/><line x1="99.9" y1="403.1" x2="99.9" y2="406.5" stroke="#000" stroke-width="1.8"/><line x1="101.0" y1="403.1" x2="101.0" y2="407.5" stroke="#000" stroke-width="1.8"/><line x1="108.2" y1="403.1" x2="108.2" y2="406.5" stroke="#000" stroke-width="1.8"/><line x1="112.4" y1="403.1" x2="112.4" y2="406.5" stroke="#000" stroke-width="1.8"/><line x1="115.3" y1="403.1" x2="115.3" y2="406.5" stroke="#000" stroke-width="1.8"/><line x1="117.6" y1="403.1" x2="117.6" y2="406.5" stroke="#000" stroke-width="1.8"/><line x1="119.5" y1="403.1" x2="119.5" y2="406.5" stroke="#000" stroke-width="1.8"/><line x1="121.1" y1="403.1" x2="121.1" y2="406.5" stroke="#000" stroke-width="1.8"/><line x1="122.5" y1="403.1" x2="122.5" y2="406.5" stroke="#000" stroke-width="1.8"/><line x1="123.7" y1="403.1" x2="123.7" y2="406.5" stroke="#000" stroke-width="1.8"/><line x1="124.8" y1="403.1" x2="124.8" y2="407.5" stroke="#000" stroke-width="1.8"/><rect x="47.5" y="403.1" width="5.4" height="3.1" fill="#000"/><rect x="71.3" y="403.1" width="5.4" height="3.1" fill="#000"/><rect x="95.0" y="403.1" width="5.4" height="3.1" fill="#000"/><rect x="118.8" y="403.1" width="5.4" height="3.1" fill="#000"/><line x1="27.2" y1="403.4" x2="125.4" y2="403.4" stroke="#111" stroke-width="1.6"/><text transform="translate(27.7,419.9) scale(0.86,1)" font-size="10" text-anchor="middle" stroke="#000" stroke-width="0.2">10</text><text x="35.3" y="413.8" font-size="9.0" text-anchor="middle" stroke="#000" stroke-width="0.2">0</text><text transform="translate(51.5,419.9) scale(0.86,1)" font-size="10" text-anchor="middle" stroke="#000" stroke-width="0.2">10</text><text x="59.1" y="413.8" font-size="9.0" text-anchor="middle" stroke="#000" stroke-width="0.2">1</text><text transform="translate(74.8,419.9) scale(0.86,1)" font-size="10" text-anchor="middle" stroke="#000" stroke-width="0.2">10</text><text x="82.4" y="413.8" font-size="9.0" text-anchor="middle" stroke="#000" stroke-width="0.2">2</text><text transform="translate(97.9,419.9) scale(0.86,1)" font-size="10" text-anchor="middle" stroke="#000" stroke-width="0.2">10</text><text x="105.5" y="413.8" font-size="9.0" text-anchor="middle" stroke="#000" stroke-width="0.2">3</text><text transform="translate(120.2,419.9) scale(0.86,1)" font-size="10" text-anchor="middle" stroke="#000" stroke-width="0.2">10</text><text x="127.8" y="413.8" font-size="9.0" text-anchor="middle" stroke="#000" stroke-width="0.2">4</text><text transform="translate(75.4,429.6) scale(0.96,1)" font-size="10" text-anchor="middle" stroke="#000" stroke-width="0.12">FL1-H</text><text transform="translate(75.3,347.8) scale(1.08,1)" font-size="9.2" text-anchor="middle" stroke="#000" stroke-width="0.12">CD80</text><text transform="translate(10.1,386.6) rotate(-90) scale(1.08,1)" font-size="9.2" text-anchor="middle" stroke="#000" stroke-width="0.12">Counts</text><text transform="translate(21.6,364.9) rotate(-90) scale(0.84,1)" font-size="10.2" text-anchor="middle" stroke="#000" stroke-width="0.2">100</text><text transform="translate(20.8,402.6) rotate(-90) scale(0.84,1)" font-size="10.2" text-anchor="middle" stroke="#000" stroke-width="0.2">0</text></g>
<g><polygon points="246.0,394.8 250.0,390.5 253.7,385.1 256.5,381.5 259.0,384.2 261.7,388.6 263.4,394.4 264.8,397.0 266.5,399.2 266.0,401.5 244.0,401.5" fill="#e4e4e4"/><polyline points="264.5,381.0 266.1,378.0 267.9,379.3 269.6,382.0 271.0,384.6 271.8,388.2 272.7,391.3 273.6,394.4 274.9,397.9 276.7,400.5 279.0,401.8" fill="none" stroke="#9c9c9c" stroke-width="1" stroke-dasharray="1 0.8"/><polyline points="214.6,401.6 226.9,401.5 233.0,400.8 236.0,400.1 238.7,399.7 241.3,397.9 244.0,396.1 246.6,394.4 248.8,392.6 250.6,390.4 251.9,387.7 253.7,385.1 255.5,382.4 256.5,381.5 257.7,382.8 259.0,384.2 260.3,385.1 261.7,388.6 262.5,391.7 263.4,394.4 264.8,397.0 266.5,399.2 268.7,401.0 271.4,402.1 274.1,402.3" fill="none" stroke="#111" stroke-width="1.3" stroke-linejoin="round"/><rect x="214" y="365.4" width="100.7" height="37.7" fill="none" stroke="#000" stroke-width="1.25"/><rect x="211.6" y="368.4" width="2.4" height="34.7" fill="#111"/><line x1="209.2" y1="403.1" x2="214" y2="403.1" stroke="#000" stroke-width="1.8"/><line x1="210.8" y1="399.3" x2="214" y2="399.3" stroke="#000" stroke-width="1.2"/><line x1="209.2" y1="395.6" x2="214" y2="395.6" stroke="#000" stroke-width="1.8"/><line x1="210.8" y1="391.8" x2="214" y2="391.8" stroke="#000" stroke-width="1.2"/><line x1="209.2" y1="388.0" x2="214" y2="388.0" stroke="#000" stroke-width="1.8"/><line x1="210.8" y1="384.2" x2="214" y2="384.2" stroke="#000" stroke-width="1.2"/><line x1="209.2" y1="380.5" x2="214" y2="380.5" stroke="#000" stroke-width="1.8"/><line x1="210.8" y1="376.7" x2="214" y2="376.7" stroke="#000" stroke-width="1.2"/><line x1="209.2" y1="372.9" x2="214" y2="372.9" stroke="#000" stroke-width="1.8"/><line x1="210.8" y1="369.2" x2="214" y2="369.2" stroke="#000" stroke-width="1.2"/><line x1="209.2" y1="365.4" x2="214" y2="365.4" stroke="#000" stroke-width="1.8"/><line x1="214.0" y1="403.1" x2="214.0" y2="407.5" stroke="#000" stroke-width="1.8"/><line x1="221.6" y1="403.1" x2="221.6" y2="406.5" stroke="#000" stroke-width="1.8"/><line x1="226.0" y1="403.1" x2="226.0" y2="406.5" stroke="#000" stroke-width="1.8"/><line x1="229.2" y1="403.1" x2="229.2" y2="406.5" stroke="#000" stroke-width="1.8"/><line x1="231.6" y1="403.1" x2="231.6" y2="406.5" stroke="#000" stroke-width="1.8"/><line x1="233.6" y1="403.1" x2="233.6" y2="406.5" stroke="#000" stroke-width="1.8"/><line x1="235.3" y1="403.1" x2="235.3" y2="406.5" stroke="#000" stroke-width="1.8"/><line x1="236.7" y1="403.1" x2="236.7" y2="406.5" stroke="#000" stroke-width="1.8"/><line x1="238.0" y1="403.1" x2="238.0" y2="406.5" stroke="#000" stroke-width="1.8"/><line x1="239.2" y1="403.1" x2="239.2" y2="407.5" stroke="#000" stroke-width="1.8"/><line x1="246.8" y1="403.1" x2="246.8" y2="406.5" stroke="#000" stroke-width="1.8"/><line x1="251.2" y1="403.1" x2="251.2" y2="406.5" stroke="#000" stroke-width="1.8"/><line x1="254.3" y1="403.1" x2="254.3" y2="406.5" stroke="#000" stroke-width="1.8"/><line x1="256.8" y1="403.1" x2="256.8" y2="406.5" stroke="#000" stroke-width="1.8"/><line x1="258.8" y1="403.1" x2="258.8" y2="406.5" stroke="#000" stroke-width="1.8"/><line x1="260.5" y1="403.1" x2="260.5" y2="406.5" stroke="#000" stroke-width="1.8"/><line x1="261.9" y1="403.1" x2="261.9" y2="406.5" stroke="#000" stroke-width="1.8"/><line x1="263.2" y1="403.1" x2="263.2" y2="406.5" stroke="#000" stroke-width="1.8"/><line x1="264.4" y1="403.1" x2="264.4" y2="407.5" stroke="#000" stroke-width="1.8"/><line x1="271.9" y1="403.1" x2="271.9" y2="406.5" stroke="#000" stroke-width="1.8"/><line x1="276.4" y1="403.1" x2="276.4" y2="406.5" stroke="#000" stroke-width="1.8"/><line x1="279.5" y1="403.1" x2="279.5" y2="406.5" stroke="#000" stroke-width="1.8"/><line x1="281.9" y1="403.1" x2="281.9" y2="406.5" stroke="#000" stroke-width="1.8"/><line x1="283.9" y1="403.1" x2="283.9" y2="406.5" stroke="#000" stroke-width="1.8"/><line x1="285.6" y1="403.1" x2="285.6" y2="406.5" stroke="#000" stroke-width="1.8"/><line x1="287.1" y1="403.1" x2="287.1" y2="406.5" stroke="#000" stroke-width="1.8"/><line x1="288.4" y1="403.1" x2="288.4" y2="406.5" stroke="#000" stroke-width="1.8"/><line x1="289.5" y1="403.1" x2="289.5" y2="407.5" stroke="#000" stroke-width="1.8"/><line x1="297.1" y1="403.1" x2="297.1" y2="406.5" stroke="#000" stroke-width="1.8"/><line x1="301.5" y1="403.1" x2="301.5" y2="406.5" stroke="#000" stroke-width="1.8"/><line x1="304.7" y1="403.1" x2="304.7" y2="406.5" stroke="#000" stroke-width="1.8"/><line x1="307.1" y1="403.1" x2="307.1" y2="406.5" stroke="#000" stroke-width="1.8"/><line x1="309.1" y1="403.1" x2="309.1" y2="406.5" stroke="#000" stroke-width="1.8"/><line x1="310.8" y1="403.1" x2="310.8" y2="406.5" stroke="#000" stroke-width="1.8"/><line x1="312.3" y1="403.1" x2="312.3" y2="406.5" stroke="#000" stroke-width="1.8"/><line x1="313.5" y1="403.1" x2="313.5" y2="406.5" stroke="#000" stroke-width="1.8"/><line x1="314.7" y1="403.1" x2="314.7" y2="407.5" stroke="#000" stroke-width="1.8"/><rect x="232.8" y="403.1" width="5.7" height="3.1" fill="#000"/><rect x="258.0" y="403.1" width="5.7" height="3.1" fill="#000"/><rect x="283.2" y="403.1" width="5.7" height="3.1" fill="#000"/><rect x="308.4" y="403.1" width="5.7" height="3.1" fill="#000"/><line x1="211.5" y1="403.4" x2="315.3" y2="403.4" stroke="#111" stroke-width="1.6"/><text transform="translate(212.0,419.9) scale(0.86,1)" font-size="10" text-anchor="middle" stroke="#000" stroke-width="0.2">10</text><text x="219.6" y="413.8" font-size="9.0" text-anchor="middle" stroke="#000" stroke-width="0.2">0</text><text transform="translate(237.2,419.9) scale(0.86,1)" font-size="10" text-anchor="middle" stroke="#000" stroke-width="0.2">10</text><text x="244.8" y="413.8" font-size="9.0" text-anchor="middle" stroke="#000" stroke-width="0.2">1</text><text transform="translate(262.0,419.9) scale(0.86,1)" font-size="10" text-anchor="middle" stroke="#000" stroke-width="0.2">10</text><text x="269.6" y="413.8" font-size="9.0" text-anchor="middle" stroke="#000" stroke-width="0.2">2</text><text transform="translate(286.4,419.9) scale(0.86,1)" font-size="10" text-anchor="middle" stroke="#000" stroke-width="0.2">10</text><text x="294.0" y="413.8" font-size="9.0" text-anchor="middle" stroke="#000" stroke-width="0.2">3</text><text transform="translate(310.1,419.9) scale(0.86,1)" font-size="10" text-anchor="middle" stroke="#000" stroke-width="0.2">10</text><text x="317.7" y="413.8" font-size="9.0" text-anchor="middle" stroke="#000" stroke-width="0.2">4</text><text transform="translate(263.3,429.6) scale(0.96,1)" font-size="10" text-anchor="middle" stroke="#000" stroke-width="0.12">FL1-H</text><text transform="translate(260.5,351.2) scale(1.08,1)" font-size="9.2" text-anchor="middle" stroke="#000" stroke-width="0.12">CD86</text><text transform="translate(194.4,386.6) rotate(-90) scale(1.08,1)" font-size="9.2" text-anchor="middle" stroke="#000" stroke-width="0.12">Counts</text><text transform="translate(205.9,364.8) rotate(-90) scale(0.84,1)" font-size="10.2" text-anchor="middle" stroke="#000" stroke-width="0.2">100</text><text transform="translate(205.1,402.6) rotate(-90) scale(0.84,1)" font-size="10.2" text-anchor="middle" stroke="#000" stroke-width="0.2">0</text></g>
<g><polyline points="444.4,400.5 447.5,397.8 449.9,393.6 452.2,387.3 454.6,381.8 456.5,377.9 458.5,375.1 460.9,377.1 462.4,380.2 464.0,385.7 465.6,390.4 467.9,395.1 471.1,399.9 475.8,402.2" fill="none" stroke="#333" stroke-width="1.3" stroke-dasharray="1 0.8"/><polygon points="449.3,403.4 449.6,400.6 451.5,396.0 453.8,391.0 455.2,388.0 456.5,385.6 457.8,381.5 459.2,377.5 460.5,380.2 461.5,382.0 462.5,384.2 463.6,387.5 464.6,391.0 466.6,397.0 468.3,400.6 468.8,403.4" fill="#2a2a2a" stroke="#000" stroke-width="1.1" stroke-linejoin="round"/><polyline points="457.0,380.0 458.5,376.0 460.0,378.0" fill="none" stroke="#111" stroke-width="1.3" stroke-linejoin="round"/><rect x="408.7" y="365.5" width="98.3" height="38.2" fill="none" stroke="#000" stroke-width="1.25"/><rect x="406.3" y="368.5" width="2.4" height="35.2" fill="#111"/><line x1="403.9" y1="403.7" x2="408.7" y2="403.7" stroke="#000" stroke-width="1.8"/><line x1="405.5" y1="399.9" x2="408.7" y2="399.9" stroke="#000" stroke-width="1.2"/><line x1="403.9" y1="396.1" x2="408.7" y2="396.1" stroke="#000" stroke-width="1.8"/><line x1="405.5" y1="392.2" x2="408.7" y2="392.2" stroke="#000" stroke-width="1.2"/><line x1="403.9" y1="388.4" x2="408.7" y2="388.4" stroke="#000" stroke-width="1.8"/><line x1="405.5" y1="384.6" x2="408.7" y2="384.6" stroke="#000" stroke-width="1.2"/><line x1="403.9" y1="380.8" x2="408.7" y2="380.8" stroke="#000" stroke-width="1.8"/><line x1="405.5" y1="377.0" x2="408.7" y2="377.0" stroke="#000" stroke-width="1.2"/><line x1="403.9" y1="373.1" x2="408.7" y2="373.1" stroke="#000" stroke-width="1.8"/><line x1="405.5" y1="369.3" x2="408.7" y2="369.3" stroke="#000" stroke-width="1.2"/><line x1="403.9" y1="365.5" x2="408.7" y2="365.5" stroke="#000" stroke-width="1.8"/><line x1="408.7" y1="403.7" x2="408.7" y2="408.1" stroke="#000" stroke-width="1.8"/><line x1="416.1" y1="403.7" x2="416.1" y2="407.1" stroke="#000" stroke-width="1.8"/><line x1="420.4" y1="403.7" x2="420.4" y2="407.1" stroke="#000" stroke-width="1.8"/><line x1="423.5" y1="403.7" x2="423.5" y2="407.1" stroke="#000" stroke-width="1.8"/><line x1="425.9" y1="403.7" x2="425.9" y2="407.1" stroke="#000" stroke-width="1.8"/><line x1="427.8" y1="403.7" x2="427.8" y2="407.1" stroke="#000" stroke-width="1.8"/><line x1="429.5" y1="403.7" x2="429.5" y2="407.1" stroke="#000" stroke-width="1.8"/><line x1="430.9" y1="403.7" x2="430.9" y2="407.1" stroke="#000" stroke-width="1.8"/><line x1="432.2" y1="403.7" x2="432.2" y2="407.1" stroke="#000" stroke-width="1.8"/><line x1="433.3" y1="403.7" x2="433.3" y2="408.1" stroke="#000" stroke-width="1.8"/><line x1="440.7" y1="403.7" x2="440.7" y2="407.1" stroke="#000" stroke-width="1.8"/><line x1="445.0" y1="403.7" x2="445.0" y2="407.1" stroke="#000" stroke-width="1.8"/><line x1="448.1" y1="403.7" x2="448.1" y2="407.1" stroke="#000" stroke-width="1.8"/><line x1="450.5" y1="403.7" x2="450.5" y2="407.1" stroke="#000" stroke-width="1.8"/><line x1="452.4" y1="403.7" x2="452.4" y2="407.1" stroke="#000" stroke-width="1.8"/><line x1="454.0" y1="403.7" x2="454.0" y2="407.1" stroke="#000" stroke-width="1.8"/><line x1="455.5" y1="403.7" x2="455.5" y2="407.1" stroke="#000" stroke-width="1.8"/><line x1="456.7" y1="403.7" x2="456.7" y2="407.1" stroke="#000" stroke-width="1.8"/><line x1="457.9" y1="403.7" x2="457.9" y2="408.1" stroke="#000" stroke-width="1.8"/><line x1="465.2" y1="403.7" x2="465.2" y2="407.1" stroke="#000" stroke-width="1.8"/><line x1="469.6" y1="403.7" x2="469.6" y2="407.1" stroke="#000" stroke-width="1.8"/><line x1="472.6" y1="403.7" x2="472.6" y2="407.1" stroke="#000" stroke-width="1.8"/><line x1="475.0" y1="403.7" x2="475.0" y2="407.1" stroke="#000" stroke-width="1.8"/><line x1="477.0" y1="403.7" x2="477.0" y2="407.1" stroke="#000" stroke-width="1.8"/><line x1="478.6" y1="403.7" x2="478.6" y2="407.1" stroke="#000" stroke-width="1.8"/><line x1="480.0" y1="403.7" x2="480.0" y2="407.1" stroke="#000" stroke-width="1.8"/><line x1="481.3" y1="403.7" x2="481.3" y2="407.1" stroke="#000" stroke-width="1.8"/><line x1="482.4" y1="403.7" x2="482.4" y2="408.1" stroke="#000" stroke-width="1.8"/><line x1="489.8" y1="403.7" x2="489.8" y2="407.1" stroke="#000" stroke-width="1.8"/><line x1="494.2" y1="403.7" x2="494.2" y2="407.1" stroke="#000" stroke-width="1.8"/><line x1="497.2" y1="403.7" x2="497.2" y2="407.1" stroke="#000" stroke-width="1.8"/><line x1="499.6" y1="403.7" x2="499.6" y2="407.1" stroke="#000" stroke-width="1.8"/><line x1="501.5" y1="403.7" x2="501.5" y2="407.1" stroke="#000" stroke-width="1.8"/><line x1="503.2" y1="403.7" x2="503.2" y2="407.1" stroke="#000" stroke-width="1.8"/><line x1="504.6" y1="403.7" x2="504.6" y2="407.1" stroke="#000" stroke-width="1.8"/><line x1="505.9" y1="403.7" x2="505.9" y2="407.1" stroke="#000" stroke-width="1.8"/><line x1="507.0" y1="403.7" x2="507.0" y2="408.1" stroke="#000" stroke-width="1.8"/><rect x="427.1" y="403.7" width="5.6" height="3.1" fill="#000"/><rect x="451.7" y="403.7" width="5.6" height="3.1" fill="#000"/><rect x="476.2" y="403.7" width="5.6" height="3.1" fill="#000"/><rect x="500.8" y="403.7" width="5.6" height="3.1" fill="#000"/><line x1="406.2" y1="404.0" x2="507.6" y2="404.0" stroke="#111" stroke-width="1.6"/><text transform="translate(406.7,420.5) scale(0.86,1)" font-size="10" text-anchor="middle" stroke="#000" stroke-width="0.2">10</text><text x="414.3" y="414.4" font-size="9.0" text-anchor="middle" stroke="#000" stroke-width="0.2">0</text><text transform="translate(431.3,420.5) scale(0.86,1)" font-size="10" text-anchor="middle" stroke="#000" stroke-width="0.2">10</text><text x="438.9" y="414.4" font-size="9.0" text-anchor="middle" stroke="#000" stroke-width="0.2">1</text><text transform="translate(455.5,420.5) scale(0.86,1)" font-size="10" text-anchor="middle" stroke="#000" stroke-width="0.2">10</text><text x="463.1" y="414.4" font-size="9.0" text-anchor="middle" stroke="#000" stroke-width="0.2">2</text><text transform="translate(479.3,420.5) scale(0.86,1)" font-size="10" text-anchor="middle" stroke="#000" stroke-width="0.2">10</text><text x="486.9" y="414.4" font-size="9.0" text-anchor="middle" stroke="#000" stroke-width="0.2">3</text><text transform="translate(502.4,420.5) scale(0.86,1)" font-size="10" text-anchor="middle" stroke="#000" stroke-width="0.2">10</text><text x="510.0" y="414.4" font-size="9.0" text-anchor="middle" stroke="#000" stroke-width="0.2">4</text><text transform="translate(455.9,430.2) scale(0.96,1)" font-size="10" text-anchor="middle" stroke="#000" stroke-width="0.12">FL1-H</text><text transform="translate(451.3,351.4) scale(1.08,1)" font-size="9.2" text-anchor="middle" stroke="#000" stroke-width="0.12">HLA-DR</text><text transform="translate(389.1,386.9) rotate(-90) scale(1.08,1)" font-size="9.2" text-anchor="middle" stroke="#000" stroke-width="0.12">Counts</text><text transform="translate(400.6,364.9) rotate(-90) scale(0.84,1)" font-size="10.2" text-anchor="middle" stroke="#000" stroke-width="0.2">100</text><text transform="translate(399.8,403.2) rotate(-90) scale(0.84,1)" font-size="10.2" text-anchor="middle" stroke="#000" stroke-width="0.2">0</text></g>
</svg></body></html>
